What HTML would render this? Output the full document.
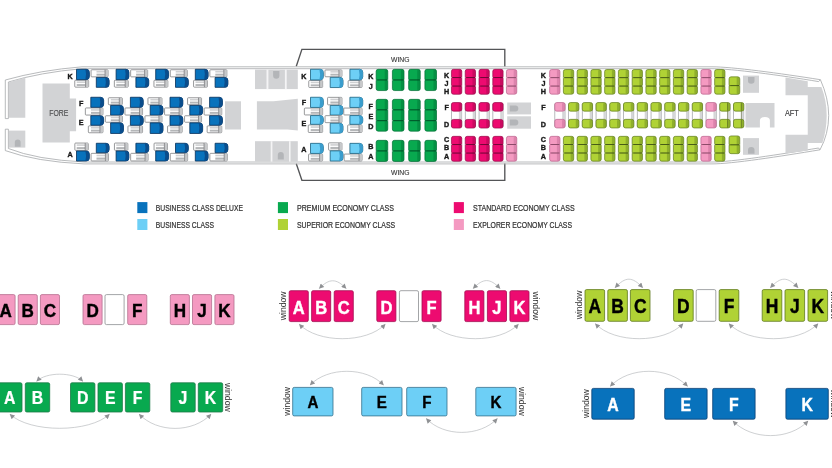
<!DOCTYPE html>
<html lang="en"><head><meta charset="utf-8"><title>Seat map</title>
<style>html,body{margin:0;padding:0;background:#fff;}body{width:832px;height:468px;overflow:hidden;}svg{display:block;filter:blur(0.45px);}text{font-family:"Liberation Sans",sans-serif;}</style>
</head><body>
<svg width="832" height="468" viewBox="0 0 832 468">
<rect width="832" height="468" fill="#ffffff"/>
<g id="plane">
<path d="M296.3 66.3 L301.9 49.3 H504.8 V66.5" fill="none" stroke="#545557" stroke-width="1.35"/>
<path d="M296.3 163.8 L301.9 180.3 H504.8 V163.6" fill="none" stroke="#545557" stroke-width="1.35"/>
<text transform="translate(400.30 61.70) scale(0.87 1)" font-size="7.8" fill="#333333" font-weight="normal" text-anchor="middle" stroke="#333333" stroke-width="0.12">WING</text>
<text transform="translate(400.30 174.90) scale(0.87 1)" font-size="7.8" fill="#333333" font-weight="normal" text-anchor="middle" stroke="#333333" stroke-width="0.12">WING</text>
<path d="M5.3 118.6 V80 Q40 70.2 82 66.8 H712 C732 66.8 780 73.3 820.4 79.7" fill="none" stroke="#a6a8ab" stroke-width="0.8"/>
<path d="M5.3 129.2 V150.6 Q36 161.7 84 163.9 H712 C732 163.9 780 156.4 820 149.8" fill="none" stroke="#a6a8ab" stroke-width="0.8"/>
<path d="M820.4 79.7 Q828.6 98 828.7 115.5 Q828.6 134 820 149.8" fill="none" stroke="#a6a8ab" stroke-width="0.8"/>
<path d="M8.4 118.6 V82 Q40 72.4 82 68.7 H712 C732 68.7 780 75.2 818.6 81.6 M818.6 148 C780 154.3 732 162.0 712 162.0 H84 Q36 159.6 8.4 148.5 V129.2" fill="none" stroke="#a6a8ab" stroke-width="0.8"/>
<path d="M5.3 118.6 H8.4 M5.3 129.2 H8.4 M818.6 81.6 L820.4 79.7 M818.6 148 L820 149.8" stroke="#a6a8ab" stroke-width="0.8" fill="none"/>
<path d="M8.9 82.2 L25.3 77.6 V117.8 H8.9 Z" fill="#d2d3d5"/>
<rect x="8.90" y="130.60" width="16.40" height="17.00" fill="#d2d3d5"/>
<path d="M14.8 146.8 V142 Q14.8 139.4 17.7 139.4 Q20.6 139.4 20.6 142 V146.8 Z" fill="#b3b5b8"/>
<path d="M42.5 83.6 H69.8 V98.6 H76.1 V131.2 H69.8 V142.5 H42.5 Z" fill="#d2d3d5"/>
<text transform="translate(58.80 115.80) scale(0.74 1)" font-size="9.3" fill="#4d4d4f" font-weight="normal" text-anchor="middle" stroke="#4d4d4f" stroke-width="0.15">FORE</text>
<text transform="translate(70.00 78.60) scale(0.9 1)" font-size="8.0" fill="#1a1a1a" font-weight="bold" text-anchor="middle" stroke="#1a1a1a" stroke-width="0.4">K</text>
<text transform="translate(81.20 105.90) scale(0.9 1)" font-size="8.0" fill="#1a1a1a" font-weight="bold" text-anchor="middle" stroke="#1a1a1a" stroke-width="0.4">F</text>
<text transform="translate(81.20 125.00) scale(0.9 1)" font-size="8.0" fill="#1a1a1a" font-weight="bold" text-anchor="middle" stroke="#1a1a1a" stroke-width="0.4">E</text>
<text transform="translate(70.00 156.90) scale(0.9 1)" font-size="8.0" fill="#1a1a1a" font-weight="bold" text-anchor="middle" stroke="#1a1a1a" stroke-width="0.4">A</text>
<rect x="74.75" y="80.25" width="13.90" height="6.90" fill="#ffffff" rx="0.8" stroke="#6d6e71" stroke-width="0.7"/>
<rect x="76.70" y="81.42" width="8.70" height="1.52" fill="#cfd0d2"/>
<rect x="76.70" y="84.08" width="8.70" height="1.90" fill="#b4b6b8"/>
<rect x="85.60" y="80.50" width="2.80" height="6.40" fill="#c6c8ca"/>
<line x1="85.60" y1="80.30" x2="85.60" y2="87.10" stroke="#5a5b5e" stroke-width="0.6"/>
<path d="M76.50 69.25 H86.20 Q89.35 69.25 89.35 72.40 V76.50 Q89.35 79.65 86.20 79.65 H76.50 Z" fill="#0872bc" stroke="#062f58" stroke-width="0.8"/>
<path d="M85.40 69.30 H86.20 Q89.30 69.30 89.30 72.40 V76.50 Q89.30 79.60 86.20 79.60 H85.40 Q86.80 74.45 85.40 69.30 Z" fill="#0a4d8c"/>
<rect x="74.85" y="143.05" width="13.40" height="7.30" fill="#ffffff" rx="0.8" stroke="#6d6e71" stroke-width="0.7"/>
<rect x="76.70" y="144.30" width="8.30" height="1.60" fill="#cfd0d2"/>
<rect x="76.70" y="147.10" width="8.30" height="2.00" fill="#b4b6b8"/>
<rect x="85.20" y="143.30" width="2.80" height="6.80" fill="#c6c8ca"/>
<line x1="85.20" y1="143.10" x2="85.20" y2="150.30" stroke="#5a5b5e" stroke-width="0.6"/>
<path d="M76.50 150.95 H86.20 Q89.35 150.95 89.35 154.10 V157.90 Q89.35 161.05 86.20 161.05 H76.50 Z" fill="#0872bc" stroke="#062f58" stroke-width="0.8"/>
<path d="M85.40 151.00 H86.20 Q89.30 151.00 89.30 154.10 V157.90 Q89.30 161.00 86.20 161.00 H85.40 Q86.80 156.00 85.40 151.00 Z" fill="#0a4d8c"/>
<rect x="91.05" y="69.75" width="17.00" height="7.10" fill="#ffffff" rx="0.8" stroke="#6d6e71" stroke-width="0.7"/>
<rect x="96.50" y="70.96" width="8.30" height="1.56" fill="#cfd0d2"/>
<rect x="96.50" y="73.69" width="8.30" height="1.95" fill="#b4b6b8"/>
<rect x="105.00" y="70.00" width="2.80" height="6.60" fill="#c6c8ca"/>
<line x1="105.00" y1="69.80" x2="105.00" y2="76.80" stroke="#5a5b5e" stroke-width="0.6"/>
<path d="M96.30 77.45 H106.00 Q109.15 77.45 109.15 80.60 V84.20 Q109.15 87.35 106.00 87.35 H96.30 Z" fill="#0872bc" stroke="#062f58" stroke-width="0.8"/>
<path d="M105.20 77.50 H106.00 Q109.10 77.50 109.10 80.60 V84.20 Q109.10 87.30 106.00 87.30 H105.20 Q106.60 82.40 105.20 77.50 Z" fill="#0a4d8c"/>
<rect x="91.05" y="153.35" width="17.40" height="7.60" fill="#ffffff" rx="0.8" stroke="#6d6e71" stroke-width="0.7"/>
<rect x="96.50" y="154.66" width="8.70" height="1.66" fill="#cfd0d2"/>
<rect x="96.50" y="157.56" width="8.70" height="2.08" fill="#b4b6b8"/>
<rect x="105.40" y="153.60" width="2.80" height="7.10" fill="#c6c8ca"/>
<line x1="105.40" y1="153.40" x2="105.40" y2="160.90" stroke="#5a5b5e" stroke-width="0.6"/>
<path d="M96.30 143.25 H106.00 Q109.15 143.25 109.15 146.40 V149.60 Q109.15 152.75 106.00 152.75 H96.30 Z" fill="#0872bc" stroke="#062f58" stroke-width="0.8"/>
<path d="M105.20 143.30 H106.00 Q109.10 143.30 109.10 146.40 V149.60 Q109.10 152.70 106.00 152.70 H105.20 Q106.60 148.00 105.20 143.30 Z" fill="#0a4d8c"/>
<rect x="114.35" y="80.25" width="13.90" height="6.90" fill="#ffffff" rx="0.8" stroke="#6d6e71" stroke-width="0.7"/>
<rect x="116.30" y="81.42" width="8.70" height="1.52" fill="#cfd0d2"/>
<rect x="116.30" y="84.08" width="8.70" height="1.90" fill="#b4b6b8"/>
<rect x="125.20" y="80.50" width="2.80" height="6.40" fill="#c6c8ca"/>
<line x1="125.20" y1="80.30" x2="125.20" y2="87.10" stroke="#5a5b5e" stroke-width="0.6"/>
<path d="M116.10 69.25 H125.80 Q128.95 69.25 128.95 72.40 V76.50 Q128.95 79.65 125.80 79.65 H116.10 Z" fill="#0872bc" stroke="#062f58" stroke-width="0.8"/>
<path d="M125.00 69.30 H125.80 Q128.90 69.30 128.90 72.40 V76.50 Q128.90 79.60 125.80 79.60 H125.00 Q126.40 74.45 125.00 69.30 Z" fill="#0a4d8c"/>
<rect x="114.45" y="143.05" width="13.40" height="7.30" fill="#ffffff" rx="0.8" stroke="#6d6e71" stroke-width="0.7"/>
<rect x="116.30" y="144.30" width="8.30" height="1.60" fill="#cfd0d2"/>
<rect x="116.30" y="147.10" width="8.30" height="2.00" fill="#b4b6b8"/>
<rect x="124.80" y="143.30" width="2.80" height="6.80" fill="#c6c8ca"/>
<line x1="124.80" y1="143.10" x2="124.80" y2="150.30" stroke="#5a5b5e" stroke-width="0.6"/>
<path d="M116.10 150.95 H125.80 Q128.95 150.95 128.95 154.10 V157.90 Q128.95 161.05 125.80 161.05 H116.10 Z" fill="#0872bc" stroke="#062f58" stroke-width="0.8"/>
<path d="M125.00 151.00 H125.80 Q128.90 151.00 128.90 154.10 V157.90 Q128.90 161.00 125.80 161.00 H125.00 Q126.40 156.00 125.00 151.00 Z" fill="#0a4d8c"/>
<rect x="130.65" y="69.75" width="17.00" height="7.10" fill="#ffffff" rx="0.8" stroke="#6d6e71" stroke-width="0.7"/>
<rect x="136.10" y="70.96" width="8.30" height="1.56" fill="#cfd0d2"/>
<rect x="136.10" y="73.69" width="8.30" height="1.95" fill="#b4b6b8"/>
<rect x="144.60" y="70.00" width="2.80" height="6.60" fill="#c6c8ca"/>
<line x1="144.60" y1="69.80" x2="144.60" y2="76.80" stroke="#5a5b5e" stroke-width="0.6"/>
<path d="M135.90 77.45 H145.60 Q148.75 77.45 148.75 80.60 V84.20 Q148.75 87.35 145.60 87.35 H135.90 Z" fill="#0872bc" stroke="#062f58" stroke-width="0.8"/>
<path d="M144.80 77.50 H145.60 Q148.70 77.50 148.70 80.60 V84.20 Q148.70 87.30 145.60 87.30 H144.80 Q146.20 82.40 144.80 77.50 Z" fill="#0a4d8c"/>
<rect x="130.65" y="153.35" width="17.40" height="7.60" fill="#ffffff" rx="0.8" stroke="#6d6e71" stroke-width="0.7"/>
<rect x="136.10" y="154.66" width="8.70" height="1.66" fill="#cfd0d2"/>
<rect x="136.10" y="157.56" width="8.70" height="2.08" fill="#b4b6b8"/>
<rect x="145.00" y="153.60" width="2.80" height="7.10" fill="#c6c8ca"/>
<line x1="145.00" y1="153.40" x2="145.00" y2="160.90" stroke="#5a5b5e" stroke-width="0.6"/>
<path d="M135.90 143.25 H145.60 Q148.75 143.25 148.75 146.40 V149.60 Q148.75 152.75 145.60 152.75 H135.90 Z" fill="#0872bc" stroke="#062f58" stroke-width="0.8"/>
<path d="M144.80 143.30 H145.60 Q148.70 143.30 148.70 146.40 V149.60 Q148.70 152.70 145.60 152.70 H144.80 Q146.20 148.00 144.80 143.30 Z" fill="#0a4d8c"/>
<rect x="153.95" y="80.25" width="13.90" height="6.90" fill="#ffffff" rx="0.8" stroke="#6d6e71" stroke-width="0.7"/>
<rect x="155.90" y="81.42" width="8.70" height="1.52" fill="#cfd0d2"/>
<rect x="155.90" y="84.08" width="8.70" height="1.90" fill="#b4b6b8"/>
<rect x="164.80" y="80.50" width="2.80" height="6.40" fill="#c6c8ca"/>
<line x1="164.80" y1="80.30" x2="164.80" y2="87.10" stroke="#5a5b5e" stroke-width="0.6"/>
<path d="M155.70 69.25 H165.40 Q168.55 69.25 168.55 72.40 V76.50 Q168.55 79.65 165.40 79.65 H155.70 Z" fill="#0872bc" stroke="#062f58" stroke-width="0.8"/>
<path d="M164.60 69.30 H165.40 Q168.50 69.30 168.50 72.40 V76.50 Q168.50 79.60 165.40 79.60 H164.60 Q166.00 74.45 164.60 69.30 Z" fill="#0a4d8c"/>
<rect x="154.05" y="143.05" width="13.40" height="7.30" fill="#ffffff" rx="0.8" stroke="#6d6e71" stroke-width="0.7"/>
<rect x="155.90" y="144.30" width="8.30" height="1.60" fill="#cfd0d2"/>
<rect x="155.90" y="147.10" width="8.30" height="2.00" fill="#b4b6b8"/>
<rect x="164.40" y="143.30" width="2.80" height="6.80" fill="#c6c8ca"/>
<line x1="164.40" y1="143.10" x2="164.40" y2="150.30" stroke="#5a5b5e" stroke-width="0.6"/>
<path d="M155.70 150.95 H165.40 Q168.55 150.95 168.55 154.10 V157.90 Q168.55 161.05 165.40 161.05 H155.70 Z" fill="#0872bc" stroke="#062f58" stroke-width="0.8"/>
<path d="M164.60 151.00 H165.40 Q168.50 151.00 168.50 154.10 V157.90 Q168.50 161.00 165.40 161.00 H164.60 Q166.00 156.00 164.60 151.00 Z" fill="#0a4d8c"/>
<rect x="170.25" y="69.75" width="17.00" height="7.10" fill="#ffffff" rx="0.8" stroke="#6d6e71" stroke-width="0.7"/>
<rect x="175.70" y="70.96" width="8.30" height="1.56" fill="#cfd0d2"/>
<rect x="175.70" y="73.69" width="8.30" height="1.95" fill="#b4b6b8"/>
<rect x="184.20" y="70.00" width="2.80" height="6.60" fill="#c6c8ca"/>
<line x1="184.20" y1="69.80" x2="184.20" y2="76.80" stroke="#5a5b5e" stroke-width="0.6"/>
<path d="M175.50 77.45 H185.20 Q188.35 77.45 188.35 80.60 V84.20 Q188.35 87.35 185.20 87.35 H175.50 Z" fill="#0872bc" stroke="#062f58" stroke-width="0.8"/>
<path d="M184.40 77.50 H185.20 Q188.30 77.50 188.30 80.60 V84.20 Q188.30 87.30 185.20 87.30 H184.40 Q185.80 82.40 184.40 77.50 Z" fill="#0a4d8c"/>
<rect x="170.25" y="153.35" width="17.40" height="7.60" fill="#ffffff" rx="0.8" stroke="#6d6e71" stroke-width="0.7"/>
<rect x="175.70" y="154.66" width="8.70" height="1.66" fill="#cfd0d2"/>
<rect x="175.70" y="157.56" width="8.70" height="2.08" fill="#b4b6b8"/>
<rect x="184.60" y="153.60" width="2.80" height="7.10" fill="#c6c8ca"/>
<line x1="184.60" y1="153.40" x2="184.60" y2="160.90" stroke="#5a5b5e" stroke-width="0.6"/>
<path d="M175.50 143.25 H185.20 Q188.35 143.25 188.35 146.40 V149.60 Q188.35 152.75 185.20 152.75 H175.50 Z" fill="#0872bc" stroke="#062f58" stroke-width="0.8"/>
<path d="M184.40 143.30 H185.20 Q188.30 143.30 188.30 146.40 V149.60 Q188.30 152.70 185.20 152.70 H184.40 Q185.80 148.00 184.40 143.30 Z" fill="#0a4d8c"/>
<rect x="193.55" y="80.25" width="13.90" height="6.90" fill="#ffffff" rx="0.8" stroke="#6d6e71" stroke-width="0.7"/>
<rect x="195.50" y="81.42" width="8.70" height="1.52" fill="#cfd0d2"/>
<rect x="195.50" y="84.08" width="8.70" height="1.90" fill="#b4b6b8"/>
<rect x="204.40" y="80.50" width="2.80" height="6.40" fill="#c6c8ca"/>
<line x1="204.40" y1="80.30" x2="204.40" y2="87.10" stroke="#5a5b5e" stroke-width="0.6"/>
<path d="M195.30 69.25 H205.00 Q208.15 69.25 208.15 72.40 V76.50 Q208.15 79.65 205.00 79.65 H195.30 Z" fill="#0872bc" stroke="#062f58" stroke-width="0.8"/>
<path d="M204.20 69.30 H205.00 Q208.10 69.30 208.10 72.40 V76.50 Q208.10 79.60 205.00 79.60 H204.20 Q205.60 74.45 204.20 69.30 Z" fill="#0a4d8c"/>
<rect x="193.65" y="143.05" width="13.40" height="7.30" fill="#ffffff" rx="0.8" stroke="#6d6e71" stroke-width="0.7"/>
<rect x="195.50" y="144.30" width="8.30" height="1.60" fill="#cfd0d2"/>
<rect x="195.50" y="147.10" width="8.30" height="2.00" fill="#b4b6b8"/>
<rect x="204.00" y="143.30" width="2.80" height="6.80" fill="#c6c8ca"/>
<line x1="204.00" y1="143.10" x2="204.00" y2="150.30" stroke="#5a5b5e" stroke-width="0.6"/>
<path d="M195.30 150.95 H205.00 Q208.15 150.95 208.15 154.10 V157.90 Q208.15 161.05 205.00 161.05 H195.30 Z" fill="#0872bc" stroke="#062f58" stroke-width="0.8"/>
<path d="M204.20 151.00 H205.00 Q208.10 151.00 208.10 154.10 V157.90 Q208.10 161.00 205.00 161.00 H204.20 Q205.60 156.00 204.20 151.00 Z" fill="#0a4d8c"/>
<rect x="209.85" y="69.75" width="17.00" height="7.10" fill="#ffffff" rx="0.8" stroke="#6d6e71" stroke-width="0.7"/>
<rect x="215.30" y="70.96" width="8.30" height="1.56" fill="#cfd0d2"/>
<rect x="215.30" y="73.69" width="8.30" height="1.95" fill="#b4b6b8"/>
<rect x="223.80" y="70.00" width="2.80" height="6.60" fill="#c6c8ca"/>
<line x1="223.80" y1="69.80" x2="223.80" y2="76.80" stroke="#5a5b5e" stroke-width="0.6"/>
<path d="M215.10 77.45 H224.80 Q227.95 77.45 227.95 80.60 V84.20 Q227.95 87.35 224.80 87.35 H215.10 Z" fill="#0872bc" stroke="#062f58" stroke-width="0.8"/>
<path d="M224.00 77.50 H224.80 Q227.90 77.50 227.90 80.60 V84.20 Q227.90 87.30 224.80 87.30 H224.00 Q225.40 82.40 224.00 77.50 Z" fill="#0a4d8c"/>
<rect x="209.85" y="153.35" width="17.40" height="7.60" fill="#ffffff" rx="0.8" stroke="#6d6e71" stroke-width="0.7"/>
<rect x="215.30" y="154.66" width="8.70" height="1.66" fill="#cfd0d2"/>
<rect x="215.30" y="157.56" width="8.70" height="2.08" fill="#b4b6b8"/>
<rect x="224.20" y="153.60" width="2.80" height="7.10" fill="#c6c8ca"/>
<line x1="224.20" y1="153.40" x2="224.20" y2="160.90" stroke="#5a5b5e" stroke-width="0.6"/>
<path d="M215.10 143.25 H224.80 Q227.95 143.25 227.95 146.40 V149.60 Q227.95 152.75 224.80 152.75 H215.10 Z" fill="#0872bc" stroke="#062f58" stroke-width="0.8"/>
<path d="M224.00 143.30 H224.80 Q227.90 143.30 227.90 146.40 V149.60 Q227.90 152.70 224.80 152.70 H224.00 Q225.40 148.00 224.00 143.30 Z" fill="#0a4d8c"/>
<rect x="85.35" y="107.95" width="17.60" height="7.10" fill="#ffffff" rx="0.8" stroke="#6d6e71" stroke-width="0.7"/>
<rect x="91.00" y="109.16" width="8.70" height="1.56" fill="#cfd0d2"/>
<rect x="91.00" y="111.89" width="8.70" height="1.95" fill="#b4b6b8"/>
<rect x="99.90" y="108.20" width="2.80" height="6.60" fill="#c6c8ca"/>
<line x1="99.90" y1="108.00" x2="99.90" y2="115.00" stroke="#5a5b5e" stroke-width="0.6"/>
<path d="M90.80 97.25 H100.50 Q103.65 97.25 103.65 100.40 V104.20 Q103.65 107.35 100.50 107.35 H90.80 Z" fill="#0872bc" stroke="#062f58" stroke-width="0.8"/>
<path d="M99.70 97.30 H100.50 Q103.60 97.30 103.60 100.40 V104.20 Q103.60 107.30 100.50 107.30 H99.70 Q101.10 102.30 99.70 97.30 Z" fill="#0a4d8c"/>
<rect x="88.35" y="125.85" width="14.60" height="6.90" fill="#ffffff" rx="0.8" stroke="#6d6e71" stroke-width="0.7"/>
<rect x="91.00" y="127.02" width="8.70" height="1.52" fill="#cfd0d2"/>
<rect x="91.00" y="129.68" width="8.70" height="1.90" fill="#b4b6b8"/>
<rect x="99.90" y="126.10" width="2.80" height="6.40" fill="#c6c8ca"/>
<line x1="99.90" y1="125.90" x2="99.90" y2="132.70" stroke="#5a5b5e" stroke-width="0.6"/>
<path d="M90.80 115.65 H100.50 Q103.65 115.65 103.65 118.80 V122.10 Q103.65 125.25 100.50 125.25 H90.80 Z" fill="#0872bc" stroke="#062f58" stroke-width="0.8"/>
<path d="M99.70 115.70 H100.50 Q103.60 115.70 103.60 118.80 V122.10 Q103.60 125.20 100.50 125.20 H99.70 Q101.10 120.45 99.70 115.70 Z" fill="#0a4d8c"/>
<rect x="108.35" y="97.75" width="14.00" height="7.00" fill="#ffffff" rx="0.8" stroke="#6d6e71" stroke-width="0.7"/>
<rect x="110.80" y="98.94" width="8.30" height="1.54" fill="#cfd0d2"/>
<rect x="110.80" y="101.64" width="8.30" height="1.92" fill="#b4b6b8"/>
<rect x="119.30" y="98.00" width="2.80" height="6.50" fill="#c6c8ca"/>
<line x1="119.30" y1="97.80" x2="119.30" y2="104.70" stroke="#5a5b5e" stroke-width="0.6"/>
<path d="M110.60 105.35 H120.30 Q123.45 105.35 123.45 108.50 V112.00 Q123.45 115.15 120.30 115.15 H110.60 Z" fill="#0872bc" stroke="#062f58" stroke-width="0.8"/>
<path d="M119.50 105.40 H120.30 Q123.40 105.40 123.40 108.50 V112.00 Q123.40 115.10 120.30 115.10 H119.50 Q120.90 110.25 119.50 105.40 Z" fill="#0a4d8c"/>
<rect x="105.35" y="115.75" width="17.00" height="6.50" fill="#ffffff" rx="0.8" stroke="#6d6e71" stroke-width="0.7"/>
<rect x="110.80" y="116.84" width="8.30" height="1.44" fill="#cfd0d2"/>
<rect x="110.80" y="119.36" width="8.30" height="1.80" fill="#b4b6b8"/>
<rect x="119.30" y="116.00" width="2.80" height="6.00" fill="#c6c8ca"/>
<line x1="119.30" y1="115.80" x2="119.30" y2="122.20" stroke="#5a5b5e" stroke-width="0.6"/>
<path d="M110.60 122.85 H120.30 Q123.45 122.85 123.45 126.00 V130.30 Q123.45 133.45 120.30 133.45 H110.60 Z" fill="#0872bc" stroke="#062f58" stroke-width="0.8"/>
<path d="M119.50 122.90 H120.30 Q123.40 122.90 123.40 126.00 V130.30 Q123.40 133.40 120.30 133.40 H119.50 Q120.90 128.15 119.50 122.90 Z" fill="#0a4d8c"/>
<rect x="124.95" y="107.95" width="17.60" height="7.10" fill="#ffffff" rx="0.8" stroke="#6d6e71" stroke-width="0.7"/>
<rect x="130.60" y="109.16" width="8.70" height="1.56" fill="#cfd0d2"/>
<rect x="130.60" y="111.89" width="8.70" height="1.95" fill="#b4b6b8"/>
<rect x="139.50" y="108.20" width="2.80" height="6.60" fill="#c6c8ca"/>
<line x1="139.50" y1="108.00" x2="139.50" y2="115.00" stroke="#5a5b5e" stroke-width="0.6"/>
<path d="M130.40 97.25 H140.10 Q143.25 97.25 143.25 100.40 V104.20 Q143.25 107.35 140.10 107.35 H130.40 Z" fill="#0872bc" stroke="#062f58" stroke-width="0.8"/>
<path d="M139.30 97.30 H140.10 Q143.20 97.30 143.20 100.40 V104.20 Q143.20 107.30 140.10 107.30 H139.30 Q140.70 102.30 139.30 97.30 Z" fill="#0a4d8c"/>
<rect x="127.95" y="125.85" width="14.60" height="6.90" fill="#ffffff" rx="0.8" stroke="#6d6e71" stroke-width="0.7"/>
<rect x="130.60" y="127.02" width="8.70" height="1.52" fill="#cfd0d2"/>
<rect x="130.60" y="129.68" width="8.70" height="1.90" fill="#b4b6b8"/>
<rect x="139.50" y="126.10" width="2.80" height="6.40" fill="#c6c8ca"/>
<line x1="139.50" y1="125.90" x2="139.50" y2="132.70" stroke="#5a5b5e" stroke-width="0.6"/>
<path d="M130.40 115.65 H140.10 Q143.25 115.65 143.25 118.80 V122.10 Q143.25 125.25 140.10 125.25 H130.40 Z" fill="#0872bc" stroke="#062f58" stroke-width="0.8"/>
<path d="M139.30 115.70 H140.10 Q143.20 115.70 143.20 118.80 V122.10 Q143.20 125.20 140.10 125.20 H139.30 Q140.70 120.45 139.30 115.70 Z" fill="#0a4d8c"/>
<rect x="147.95" y="97.75" width="14.00" height="7.00" fill="#ffffff" rx="0.8" stroke="#6d6e71" stroke-width="0.7"/>
<rect x="150.40" y="98.94" width="8.30" height="1.54" fill="#cfd0d2"/>
<rect x="150.40" y="101.64" width="8.30" height="1.92" fill="#b4b6b8"/>
<rect x="158.90" y="98.00" width="2.80" height="6.50" fill="#c6c8ca"/>
<line x1="158.90" y1="97.80" x2="158.90" y2="104.70" stroke="#5a5b5e" stroke-width="0.6"/>
<path d="M150.20 105.35 H159.90 Q163.05 105.35 163.05 108.50 V112.00 Q163.05 115.15 159.90 115.15 H150.20 Z" fill="#0872bc" stroke="#062f58" stroke-width="0.8"/>
<path d="M159.10 105.40 H159.90 Q163.00 105.40 163.00 108.50 V112.00 Q163.00 115.10 159.90 115.10 H159.10 Q160.50 110.25 159.10 105.40 Z" fill="#0a4d8c"/>
<rect x="144.95" y="115.75" width="17.00" height="6.50" fill="#ffffff" rx="0.8" stroke="#6d6e71" stroke-width="0.7"/>
<rect x="150.40" y="116.84" width="8.30" height="1.44" fill="#cfd0d2"/>
<rect x="150.40" y="119.36" width="8.30" height="1.80" fill="#b4b6b8"/>
<rect x="158.90" y="116.00" width="2.80" height="6.00" fill="#c6c8ca"/>
<line x1="158.90" y1="115.80" x2="158.90" y2="122.20" stroke="#5a5b5e" stroke-width="0.6"/>
<path d="M150.20 122.85 H159.90 Q163.05 122.85 163.05 126.00 V130.30 Q163.05 133.45 159.90 133.45 H150.20 Z" fill="#0872bc" stroke="#062f58" stroke-width="0.8"/>
<path d="M159.10 122.90 H159.90 Q163.00 122.90 163.00 126.00 V130.30 Q163.00 133.40 159.90 133.40 H159.10 Q160.50 128.15 159.10 122.90 Z" fill="#0a4d8c"/>
<rect x="164.55" y="107.95" width="17.60" height="7.10" fill="#ffffff" rx="0.8" stroke="#6d6e71" stroke-width="0.7"/>
<rect x="170.20" y="109.16" width="8.70" height="1.56" fill="#cfd0d2"/>
<rect x="170.20" y="111.89" width="8.70" height="1.95" fill="#b4b6b8"/>
<rect x="179.10" y="108.20" width="2.80" height="6.60" fill="#c6c8ca"/>
<line x1="179.10" y1="108.00" x2="179.10" y2="115.00" stroke="#5a5b5e" stroke-width="0.6"/>
<path d="M170.00 97.25 H179.70 Q182.85 97.25 182.85 100.40 V104.20 Q182.85 107.35 179.70 107.35 H170.00 Z" fill="#0872bc" stroke="#062f58" stroke-width="0.8"/>
<path d="M178.90 97.30 H179.70 Q182.80 97.30 182.80 100.40 V104.20 Q182.80 107.30 179.70 107.30 H178.90 Q180.30 102.30 178.90 97.30 Z" fill="#0a4d8c"/>
<rect x="167.55" y="125.85" width="14.60" height="6.90" fill="#ffffff" rx="0.8" stroke="#6d6e71" stroke-width="0.7"/>
<rect x="170.20" y="127.02" width="8.70" height="1.52" fill="#cfd0d2"/>
<rect x="170.20" y="129.68" width="8.70" height="1.90" fill="#b4b6b8"/>
<rect x="179.10" y="126.10" width="2.80" height="6.40" fill="#c6c8ca"/>
<line x1="179.10" y1="125.90" x2="179.10" y2="132.70" stroke="#5a5b5e" stroke-width="0.6"/>
<path d="M170.00 115.65 H179.70 Q182.85 115.65 182.85 118.80 V122.10 Q182.85 125.25 179.70 125.25 H170.00 Z" fill="#0872bc" stroke="#062f58" stroke-width="0.8"/>
<path d="M178.90 115.70 H179.70 Q182.80 115.70 182.80 118.80 V122.10 Q182.80 125.20 179.70 125.20 H178.90 Q180.30 120.45 178.90 115.70 Z" fill="#0a4d8c"/>
<rect x="187.55" y="97.75" width="14.00" height="7.00" fill="#ffffff" rx="0.8" stroke="#6d6e71" stroke-width="0.7"/>
<rect x="190.00" y="98.94" width="8.30" height="1.54" fill="#cfd0d2"/>
<rect x="190.00" y="101.64" width="8.30" height="1.92" fill="#b4b6b8"/>
<rect x="198.50" y="98.00" width="2.80" height="6.50" fill="#c6c8ca"/>
<line x1="198.50" y1="97.80" x2="198.50" y2="104.70" stroke="#5a5b5e" stroke-width="0.6"/>
<path d="M189.80 105.35 H199.50 Q202.65 105.35 202.65 108.50 V112.00 Q202.65 115.15 199.50 115.15 H189.80 Z" fill="#0872bc" stroke="#062f58" stroke-width="0.8"/>
<path d="M198.70 105.40 H199.50 Q202.60 105.40 202.60 108.50 V112.00 Q202.60 115.10 199.50 115.10 H198.70 Q200.10 110.25 198.70 105.40 Z" fill="#0a4d8c"/>
<rect x="184.55" y="115.75" width="17.00" height="6.50" fill="#ffffff" rx="0.8" stroke="#6d6e71" stroke-width="0.7"/>
<rect x="190.00" y="116.84" width="8.30" height="1.44" fill="#cfd0d2"/>
<rect x="190.00" y="119.36" width="8.30" height="1.80" fill="#b4b6b8"/>
<rect x="198.50" y="116.00" width="2.80" height="6.00" fill="#c6c8ca"/>
<line x1="198.50" y1="115.80" x2="198.50" y2="122.20" stroke="#5a5b5e" stroke-width="0.6"/>
<path d="M189.80 122.85 H199.50 Q202.65 122.85 202.65 126.00 V130.30 Q202.65 133.45 199.50 133.45 H189.80 Z" fill="#0872bc" stroke="#062f58" stroke-width="0.8"/>
<path d="M198.70 122.90 H199.50 Q202.60 122.90 202.60 126.00 V130.30 Q202.60 133.40 199.50 133.40 H198.70 Q200.10 128.15 198.70 122.90 Z" fill="#0a4d8c"/>
<rect x="204.15" y="107.95" width="17.60" height="7.10" fill="#ffffff" rx="0.8" stroke="#6d6e71" stroke-width="0.7"/>
<rect x="209.80" y="109.16" width="8.70" height="1.56" fill="#cfd0d2"/>
<rect x="209.80" y="111.89" width="8.70" height="1.95" fill="#b4b6b8"/>
<rect x="218.70" y="108.20" width="2.80" height="6.60" fill="#c6c8ca"/>
<line x1="218.70" y1="108.00" x2="218.70" y2="115.00" stroke="#5a5b5e" stroke-width="0.6"/>
<path d="M209.60 97.25 H219.30 Q222.45 97.25 222.45 100.40 V104.20 Q222.45 107.35 219.30 107.35 H209.60 Z" fill="#0872bc" stroke="#062f58" stroke-width="0.8"/>
<path d="M218.50 97.30 H219.30 Q222.40 97.30 222.40 100.40 V104.20 Q222.40 107.30 219.30 107.30 H218.50 Q219.90 102.30 218.50 97.30 Z" fill="#0a4d8c"/>
<rect x="207.15" y="125.85" width="14.60" height="6.90" fill="#ffffff" rx="0.8" stroke="#6d6e71" stroke-width="0.7"/>
<rect x="209.80" y="127.02" width="8.70" height="1.52" fill="#cfd0d2"/>
<rect x="209.80" y="129.68" width="8.70" height="1.90" fill="#b4b6b8"/>
<rect x="218.70" y="126.10" width="2.80" height="6.40" fill="#c6c8ca"/>
<line x1="218.70" y1="125.90" x2="218.70" y2="132.70" stroke="#5a5b5e" stroke-width="0.6"/>
<path d="M209.60 115.65 H219.30 Q222.45 115.65 222.45 118.80 V122.10 Q222.45 125.25 219.30 125.25 H209.60 Z" fill="#0872bc" stroke="#062f58" stroke-width="0.8"/>
<path d="M218.50 115.70 H219.30 Q222.40 115.70 222.40 118.80 V122.10 Q222.40 125.20 219.30 125.20 H218.50 Q219.90 120.45 218.50 115.70 Z" fill="#0a4d8c"/>
<rect x="225.00" y="101.30" width="16.00" height="28.20" fill="#d2d3d5"/>
<rect x="255.00" y="69.60" width="42.80" height="19.50" fill="#d2d3d5"/>
<rect x="266.50" y="69.60" width="1.90" height="19.50" fill="#f4f4f5"/>
<rect x="284.90" y="69.60" width="1.80" height="19.50" fill="#f4f4f5"/>
<path d="M273.1 71 H279.4 V75.6 Q279.4 78.8 276.25 78.8 Q273.1 78.8 273.1 75.6 Z" fill="#b3b5b8"/>
<path d="M256.9 101.3 H273.5 L297.8 98.8 V130.6 L287.5 129.6 H256.9 Z" fill="#d2d3d5"/>
<rect x="255.00" y="141.20" width="42.80" height="20.40" fill="#d2d3d5"/>
<rect x="270.70" y="141.20" width="1.70" height="20.40" fill="#f4f4f5"/>
<rect x="289.00" y="141.20" width="1.60" height="20.40" fill="#f4f4f5"/>
<path d="M277.8 159.4 V154.9 Q277.8 151.9 280.8 151.9 Q283.8 151.9 283.8 154.9 V159.4 Z" fill="#b3b5b8"/>
<text transform="translate(303.80 78.50) scale(0.9 1)" font-size="8.0" fill="#1a1a1a" font-weight="bold" text-anchor="middle" stroke="#1a1a1a" stroke-width="0.4">K</text>
<text transform="translate(304.00 105.40) scale(0.9 1)" font-size="8.0" fill="#1a1a1a" font-weight="bold" text-anchor="middle" stroke="#1a1a1a" stroke-width="0.4">F</text>
<text transform="translate(304.00 126.00) scale(0.9 1)" font-size="8.0" fill="#1a1a1a" font-weight="bold" text-anchor="middle" stroke="#1a1a1a" stroke-width="0.4">E</text>
<text transform="translate(303.80 151.60) scale(0.9 1)" font-size="8.0" fill="#1a1a1a" font-weight="bold" text-anchor="middle" stroke="#1a1a1a" stroke-width="0.4">A</text>
<rect x="308.75" y="80.55" width="13.90" height="6.90" fill="#ffffff" rx="0.8" stroke="#6d6e71" stroke-width="0.7"/>
<rect x="310.70" y="81.72" width="8.70" height="1.52" fill="#cfd0d2"/>
<rect x="310.70" y="84.38" width="8.70" height="1.90" fill="#b4b6b8"/>
<rect x="319.60" y="80.80" width="2.80" height="6.40" fill="#c6c8ca"/>
<line x1="319.60" y1="80.60" x2="319.60" y2="87.40" stroke="#5a5b5e" stroke-width="0.6"/>
<path d="M310.50 69.25 H320.20 Q323.35 69.25 323.35 72.40 V76.80 Q323.35 79.95 320.20 79.95 H310.50 Z" fill="#6dcff6" stroke="#1b5f7e" stroke-width="0.8"/>
<path d="M319.40 69.30 H320.20 Q323.30 69.30 323.30 72.40 V76.80 Q323.30 79.90 320.20 79.90 H319.40 Q320.80 74.60 319.40 69.30 Z" fill="#3a9dcd"/>
<rect x="308.55" y="154.05" width="14.10" height="6.90" fill="#ffffff" rx="0.8" stroke="#6d6e71" stroke-width="0.7"/>
<rect x="310.70" y="155.22" width="8.70" height="1.52" fill="#cfd0d2"/>
<rect x="310.70" y="157.88" width="8.70" height="1.90" fill="#b4b6b8"/>
<rect x="319.60" y="154.30" width="2.80" height="6.40" fill="#c6c8ca"/>
<line x1="319.60" y1="154.10" x2="319.60" y2="160.90" stroke="#5a5b5e" stroke-width="0.6"/>
<path d="M310.50 143.35 H320.20 Q323.35 143.35 323.35 146.50 V150.30 Q323.35 153.45 320.20 153.45 H310.50 Z" fill="#6dcff6" stroke="#1b5f7e" stroke-width="0.8"/>
<path d="M319.40 143.40 H320.20 Q323.30 143.40 323.30 146.50 V150.30 Q323.30 153.40 320.20 153.40 H319.40 Q320.80 148.40 319.40 143.40 Z" fill="#3a9dcd"/>
<rect x="304.35" y="108.05" width="18.30" height="6.90" fill="#ffffff" rx="0.8" stroke="#6d6e71" stroke-width="0.7"/>
<rect x="310.70" y="109.22" width="8.70" height="1.52" fill="#cfd0d2"/>
<rect x="310.70" y="111.88" width="8.70" height="1.90" fill="#b4b6b8"/>
<rect x="319.60" y="108.30" width="2.80" height="6.40" fill="#c6c8ca"/>
<line x1="319.60" y1="108.10" x2="319.60" y2="114.90" stroke="#5a5b5e" stroke-width="0.6"/>
<path d="M310.50 97.25 H320.20 Q323.35 97.25 323.35 100.40 V104.30 Q323.35 107.45 320.20 107.45 H310.50 Z" fill="#6dcff6" stroke="#1b5f7e" stroke-width="0.8"/>
<path d="M319.40 97.30 H320.20 Q323.30 97.30 323.30 100.40 V104.30 Q323.30 107.40 320.20 107.40 H319.40 Q320.80 102.35 319.40 97.30 Z" fill="#3a9dcd"/>
<rect x="308.25" y="124.95" width="14.40" height="7.50" fill="#ffffff" rx="0.8" stroke="#6d6e71" stroke-width="0.7"/>
<rect x="310.70" y="126.24" width="8.70" height="1.64" fill="#cfd0d2"/>
<rect x="310.70" y="129.11" width="8.70" height="2.05" fill="#b4b6b8"/>
<rect x="319.60" y="125.20" width="2.80" height="7.00" fill="#c6c8ca"/>
<line x1="319.60" y1="125.00" x2="319.60" y2="132.40" stroke="#5a5b5e" stroke-width="0.6"/>
<path d="M310.50 115.55 H320.20 Q323.35 115.55 323.35 118.70 V121.20 Q323.35 124.35 320.20 124.35 H310.50 Z" fill="#6dcff6" stroke="#1b5f7e" stroke-width="0.8"/>
<path d="M319.40 115.60 H320.20 Q323.30 115.60 323.30 118.70 V121.20 Q323.30 124.30 320.20 124.30 H319.40 Q320.80 119.95 319.40 115.60 Z" fill="#3a9dcd"/>
<rect x="324.95" y="69.95" width="17.00" height="6.80" fill="#ffffff" rx="0.8" stroke="#6d6e71" stroke-width="0.7"/>
<rect x="330.40" y="71.10" width="8.30" height="1.50" fill="#cfd0d2"/>
<rect x="330.40" y="73.72" width="8.30" height="1.88" fill="#b4b6b8"/>
<rect x="338.90" y="70.20" width="2.80" height="6.30" fill="#c6c8ca"/>
<line x1="338.90" y1="70.00" x2="338.90" y2="76.70" stroke="#5a5b5e" stroke-width="0.6"/>
<path d="M330.20 77.35 H339.90 Q343.05 77.35 343.05 80.50 V84.40 Q343.05 87.55 339.90 87.55 H330.20 Z" fill="#6dcff6" stroke="#1b5f7e" stroke-width="0.8"/>
<path d="M339.10 77.40 H339.90 Q343.00 77.40 343.00 80.50 V84.40 Q343.00 87.50 339.90 87.50 H339.10 Q340.50 82.45 339.10 77.40 Z" fill="#3a9dcd"/>
<rect x="328.55" y="142.85" width="13.40" height="7.40" fill="#ffffff" rx="0.8" stroke="#6d6e71" stroke-width="0.7"/>
<rect x="330.40" y="144.12" width="8.30" height="1.62" fill="#cfd0d2"/>
<rect x="330.40" y="146.95" width="8.30" height="2.02" fill="#b4b6b8"/>
<rect x="338.90" y="143.10" width="2.80" height="6.90" fill="#c6c8ca"/>
<line x1="338.90" y1="142.90" x2="338.90" y2="150.20" stroke="#5a5b5e" stroke-width="0.6"/>
<path d="M330.20 150.85 H339.90 Q343.05 150.85 343.05 154.00 V157.90 Q343.05 161.05 339.90 161.05 H330.20 Z" fill="#6dcff6" stroke="#1b5f7e" stroke-width="0.8"/>
<path d="M339.10 150.90 H339.90 Q343.00 150.90 343.00 154.00 V157.90 Q343.00 161.00 339.90 161.00 H339.10 Q340.50 155.95 339.10 150.90 Z" fill="#3a9dcd"/>
<rect x="327.55" y="97.35" width="14.40" height="7.50" fill="#ffffff" rx="0.8" stroke="#6d6e71" stroke-width="0.7"/>
<rect x="330.40" y="98.64" width="8.30" height="1.64" fill="#cfd0d2"/>
<rect x="330.40" y="101.51" width="8.30" height="2.05" fill="#b4b6b8"/>
<rect x="338.90" y="97.60" width="2.80" height="7.00" fill="#c6c8ca"/>
<line x1="338.90" y1="97.40" x2="338.90" y2="104.80" stroke="#5a5b5e" stroke-width="0.6"/>
<path d="M330.20 105.45 H339.90 Q343.05 105.45 343.05 108.60 V111.90 Q343.05 115.05 339.90 115.05 H330.20 Z" fill="#6dcff6" stroke="#1b5f7e" stroke-width="0.8"/>
<path d="M339.10 105.50 H339.90 Q343.00 105.50 343.00 108.60 V111.90 Q343.00 115.00 339.90 115.00 H339.10 Q340.50 110.25 339.10 105.50 Z" fill="#3a9dcd"/>
<rect x="325.05" y="115.65" width="16.90" height="7.00" fill="#ffffff" rx="0.8" stroke="#6d6e71" stroke-width="0.7"/>
<rect x="330.40" y="116.84" width="8.30" height="1.54" fill="#cfd0d2"/>
<rect x="330.40" y="119.53" width="8.30" height="1.93" fill="#b4b6b8"/>
<rect x="338.90" y="115.90" width="2.80" height="6.50" fill="#c6c8ca"/>
<line x1="338.90" y1="115.70" x2="338.90" y2="122.60" stroke="#5a5b5e" stroke-width="0.6"/>
<path d="M330.20 123.25 H339.90 Q343.05 123.25 343.05 126.40 V130.00 Q343.05 133.15 339.90 133.15 H330.20 Z" fill="#6dcff6" stroke="#1b5f7e" stroke-width="0.8"/>
<path d="M339.10 123.30 H339.90 Q343.00 123.30 343.00 126.40 V130.00 Q343.00 133.10 339.90 133.10 H339.10 Q340.50 128.20 339.10 123.30 Z" fill="#3a9dcd"/>
<rect x="348.15" y="80.55" width="13.90" height="6.90" fill="#ffffff" rx="0.8" stroke="#6d6e71" stroke-width="0.7"/>
<rect x="350.10" y="81.72" width="8.70" height="1.52" fill="#cfd0d2"/>
<rect x="350.10" y="84.38" width="8.70" height="1.90" fill="#b4b6b8"/>
<rect x="359.00" y="80.80" width="2.80" height="6.40" fill="#c6c8ca"/>
<line x1="359.00" y1="80.60" x2="359.00" y2="87.40" stroke="#5a5b5e" stroke-width="0.6"/>
<path d="M349.90 69.25 H359.60 Q362.75 69.25 362.75 72.40 V76.80 Q362.75 79.95 359.60 79.95 H349.90 Z" fill="#6dcff6" stroke="#1b5f7e" stroke-width="0.8"/>
<path d="M358.80 69.30 H359.60 Q362.70 69.30 362.70 72.40 V76.80 Q362.70 79.90 359.60 79.90 H358.80 Q360.20 74.60 358.80 69.30 Z" fill="#3a9dcd"/>
<rect x="344.15" y="154.05" width="17.90" height="6.90" fill="#ffffff" rx="0.8" stroke="#6d6e71" stroke-width="0.7"/>
<rect x="350.10" y="155.22" width="8.70" height="1.52" fill="#cfd0d2"/>
<rect x="350.10" y="157.88" width="8.70" height="1.90" fill="#b4b6b8"/>
<rect x="359.00" y="154.30" width="2.80" height="6.40" fill="#c6c8ca"/>
<line x1="359.00" y1="154.10" x2="359.00" y2="160.90" stroke="#5a5b5e" stroke-width="0.6"/>
<path d="M349.90 143.35 H359.60 Q362.75 143.35 362.75 146.50 V150.30 Q362.75 153.45 359.60 153.45 H349.90 Z" fill="#6dcff6" stroke="#1b5f7e" stroke-width="0.8"/>
<path d="M358.80 143.40 H359.60 Q362.70 143.40 362.70 146.50 V150.30 Q362.70 153.40 359.60 153.40 H358.80 Q360.20 148.40 358.80 143.40 Z" fill="#3a9dcd"/>
<rect x="343.75" y="108.05" width="18.30" height="6.90" fill="#ffffff" rx="0.8" stroke="#6d6e71" stroke-width="0.7"/>
<rect x="350.10" y="109.22" width="8.70" height="1.52" fill="#cfd0d2"/>
<rect x="350.10" y="111.88" width="8.70" height="1.90" fill="#b4b6b8"/>
<rect x="359.00" y="108.30" width="2.80" height="6.40" fill="#c6c8ca"/>
<line x1="359.00" y1="108.10" x2="359.00" y2="114.90" stroke="#5a5b5e" stroke-width="0.6"/>
<path d="M349.90 97.25 H359.60 Q362.75 97.25 362.75 100.40 V104.30 Q362.75 107.45 359.60 107.45 H349.90 Z" fill="#6dcff6" stroke="#1b5f7e" stroke-width="0.8"/>
<path d="M358.80 97.30 H359.60 Q362.70 97.30 362.70 100.40 V104.30 Q362.70 107.40 359.60 107.40 H358.80 Q360.20 102.35 358.80 97.30 Z" fill="#3a9dcd"/>
<rect x="347.65" y="124.95" width="14.40" height="7.50" fill="#ffffff" rx="0.8" stroke="#6d6e71" stroke-width="0.7"/>
<rect x="350.10" y="126.24" width="8.70" height="1.64" fill="#cfd0d2"/>
<rect x="350.10" y="129.11" width="8.70" height="2.05" fill="#b4b6b8"/>
<rect x="359.00" y="125.20" width="2.80" height="7.00" fill="#c6c8ca"/>
<line x1="359.00" y1="125.00" x2="359.00" y2="132.40" stroke="#5a5b5e" stroke-width="0.6"/>
<path d="M349.90 115.55 H359.60 Q362.75 115.55 362.75 118.70 V121.20 Q362.75 124.35 359.60 124.35 H349.90 Z" fill="#6dcff6" stroke="#1b5f7e" stroke-width="0.8"/>
<path d="M358.80 115.60 H359.60 Q362.70 115.60 362.70 118.70 V121.20 Q362.70 124.30 359.60 124.30 H358.80 Q360.20 119.95 358.80 115.60 Z" fill="#3a9dcd"/>
<text transform="translate(370.80 78.50) scale(0.9 1)" font-size="8.0" fill="#1a1a1a" font-weight="bold" text-anchor="middle" stroke="#1a1a1a" stroke-width="0.4">K</text>
<text transform="translate(370.80 88.50) scale(0.9 1)" font-size="8.0" fill="#1a1a1a" font-weight="bold" text-anchor="middle" stroke="#1a1a1a" stroke-width="0.4">J</text>
<text transform="translate(370.80 108.50) scale(0.9 1)" font-size="8.0" fill="#1a1a1a" font-weight="bold" text-anchor="middle" stroke="#1a1a1a" stroke-width="0.4">F</text>
<text transform="translate(370.80 118.80) scale(0.9 1)" font-size="8.0" fill="#1a1a1a" font-weight="bold" text-anchor="middle" stroke="#1a1a1a" stroke-width="0.4">E</text>
<text transform="translate(370.80 129.10) scale(0.9 1)" font-size="8.0" fill="#1a1a1a" font-weight="bold" text-anchor="middle" stroke="#1a1a1a" stroke-width="0.4">D</text>
<text transform="translate(370.80 149.40) scale(0.9 1)" font-size="8.0" fill="#1a1a1a" font-weight="bold" text-anchor="middle" stroke="#1a1a1a" stroke-width="0.4">B</text>
<text transform="translate(370.80 159.40) scale(0.9 1)" font-size="8.0" fill="#1a1a1a" font-weight="bold" text-anchor="middle" stroke="#1a1a1a" stroke-width="0.4">A</text>
<rect x="376.15" y="69.35" width="11.60" height="21.20" fill="#08a94f" rx="2.0" stroke="#006b33" stroke-width="0.7"/>
<rect x="384.70" y="69.70" width="2.70" height="20.50" fill="#006b33" rx="1.0" opacity="0.4"/>
<line x1="376.10" y1="79.95" x2="387.80" y2="79.95" stroke="#006b33" stroke-width="1.0"/>
<line x1="377.60" y1="79.95" x2="387.10" y2="79.95" stroke="#000000" stroke-opacity="0.3" stroke-width="0.8"/>
<path d="M375.60 78.95 L376.40 79.95 L375.60 80.95 Z M388.30 78.95 L387.50 79.95 L388.30 80.95 Z" fill="#ffffff"/>
<rect x="376.15" y="99.35" width="11.60" height="31.80" fill="#08a94f" rx="2.0" stroke="#006b33" stroke-width="0.7"/>
<rect x="384.70" y="99.70" width="2.70" height="31.10" fill="#006b33" rx="1.0" opacity="0.4"/>
<line x1="376.10" y1="109.83" x2="387.80" y2="109.83" stroke="#006b33" stroke-width="1.0"/>
<line x1="377.60" y1="109.83" x2="387.10" y2="109.83" stroke="#000000" stroke-opacity="0.3" stroke-width="0.8"/>
<path d="M375.60 108.83 L376.40 109.83 L375.60 110.83 Z M388.30 108.83 L387.50 109.83 L388.30 110.83 Z" fill="#ffffff"/>
<line x1="376.10" y1="120.67" x2="387.80" y2="120.67" stroke="#006b33" stroke-width="1.0"/>
<line x1="377.60" y1="120.67" x2="387.10" y2="120.67" stroke="#000000" stroke-opacity="0.3" stroke-width="0.8"/>
<path d="M375.60 119.67 L376.40 120.67 L375.60 121.67 Z M388.30 119.67 L387.50 120.67 L388.30 121.67 Z" fill="#ffffff"/>
<rect x="376.15" y="140.35" width="11.60" height="21.10" fill="#08a94f" rx="2.0" stroke="#006b33" stroke-width="0.7"/>
<rect x="384.70" y="140.70" width="2.70" height="20.40" fill="#006b33" rx="1.0" opacity="0.4"/>
<line x1="376.10" y1="150.90" x2="387.80" y2="150.90" stroke="#006b33" stroke-width="1.0"/>
<line x1="377.60" y1="150.90" x2="387.10" y2="150.90" stroke="#000000" stroke-opacity="0.3" stroke-width="0.8"/>
<path d="M375.60 149.90 L376.40 150.90 L375.60 151.90 Z M388.30 149.90 L387.50 150.90 L388.30 151.90 Z" fill="#ffffff"/>
<rect x="392.40" y="69.35" width="11.60" height="21.20" fill="#08a94f" rx="2.0" stroke="#006b33" stroke-width="0.7"/>
<rect x="400.95" y="69.70" width="2.70" height="20.50" fill="#006b33" rx="1.0" opacity="0.4"/>
<line x1="392.35" y1="79.95" x2="404.05" y2="79.95" stroke="#006b33" stroke-width="1.0"/>
<line x1="393.85" y1="79.95" x2="403.35" y2="79.95" stroke="#000000" stroke-opacity="0.3" stroke-width="0.8"/>
<path d="M391.85 78.95 L392.65 79.95 L391.85 80.95 Z M404.55 78.95 L403.75 79.95 L404.55 80.95 Z" fill="#ffffff"/>
<rect x="392.40" y="99.35" width="11.60" height="31.80" fill="#08a94f" rx="2.0" stroke="#006b33" stroke-width="0.7"/>
<rect x="400.95" y="99.70" width="2.70" height="31.10" fill="#006b33" rx="1.0" opacity="0.4"/>
<line x1="392.35" y1="109.83" x2="404.05" y2="109.83" stroke="#006b33" stroke-width="1.0"/>
<line x1="393.85" y1="109.83" x2="403.35" y2="109.83" stroke="#000000" stroke-opacity="0.3" stroke-width="0.8"/>
<path d="M391.85 108.83 L392.65 109.83 L391.85 110.83 Z M404.55 108.83 L403.75 109.83 L404.55 110.83 Z" fill="#ffffff"/>
<line x1="392.35" y1="120.67" x2="404.05" y2="120.67" stroke="#006b33" stroke-width="1.0"/>
<line x1="393.85" y1="120.67" x2="403.35" y2="120.67" stroke="#000000" stroke-opacity="0.3" stroke-width="0.8"/>
<path d="M391.85 119.67 L392.65 120.67 L391.85 121.67 Z M404.55 119.67 L403.75 120.67 L404.55 121.67 Z" fill="#ffffff"/>
<rect x="392.40" y="140.35" width="11.60" height="21.10" fill="#08a94f" rx="2.0" stroke="#006b33" stroke-width="0.7"/>
<rect x="400.95" y="140.70" width="2.70" height="20.40" fill="#006b33" rx="1.0" opacity="0.4"/>
<line x1="392.35" y1="150.90" x2="404.05" y2="150.90" stroke="#006b33" stroke-width="1.0"/>
<line x1="393.85" y1="150.90" x2="403.35" y2="150.90" stroke="#000000" stroke-opacity="0.3" stroke-width="0.8"/>
<path d="M391.85 149.90 L392.65 150.90 L391.85 151.90 Z M404.55 149.90 L403.75 150.90 L404.55 151.90 Z" fill="#ffffff"/>
<rect x="408.65" y="69.35" width="11.60" height="21.20" fill="#08a94f" rx="2.0" stroke="#006b33" stroke-width="0.7"/>
<rect x="417.20" y="69.70" width="2.70" height="20.50" fill="#006b33" rx="1.0" opacity="0.4"/>
<line x1="408.60" y1="79.95" x2="420.30" y2="79.95" stroke="#006b33" stroke-width="1.0"/>
<line x1="410.10" y1="79.95" x2="419.60" y2="79.95" stroke="#000000" stroke-opacity="0.3" stroke-width="0.8"/>
<path d="M408.10 78.95 L408.90 79.95 L408.10 80.95 Z M420.80 78.95 L420.00 79.95 L420.80 80.95 Z" fill="#ffffff"/>
<rect x="408.65" y="99.35" width="11.60" height="31.80" fill="#08a94f" rx="2.0" stroke="#006b33" stroke-width="0.7"/>
<rect x="417.20" y="99.70" width="2.70" height="31.10" fill="#006b33" rx="1.0" opacity="0.4"/>
<line x1="408.60" y1="109.83" x2="420.30" y2="109.83" stroke="#006b33" stroke-width="1.0"/>
<line x1="410.10" y1="109.83" x2="419.60" y2="109.83" stroke="#000000" stroke-opacity="0.3" stroke-width="0.8"/>
<path d="M408.10 108.83 L408.90 109.83 L408.10 110.83 Z M420.80 108.83 L420.00 109.83 L420.80 110.83 Z" fill="#ffffff"/>
<line x1="408.60" y1="120.67" x2="420.30" y2="120.67" stroke="#006b33" stroke-width="1.0"/>
<line x1="410.10" y1="120.67" x2="419.60" y2="120.67" stroke="#000000" stroke-opacity="0.3" stroke-width="0.8"/>
<path d="M408.10 119.67 L408.90 120.67 L408.10 121.67 Z M420.80 119.67 L420.00 120.67 L420.80 121.67 Z" fill="#ffffff"/>
<rect x="408.65" y="140.35" width="11.60" height="21.10" fill="#08a94f" rx="2.0" stroke="#006b33" stroke-width="0.7"/>
<rect x="417.20" y="140.70" width="2.70" height="20.40" fill="#006b33" rx="1.0" opacity="0.4"/>
<line x1="408.60" y1="150.90" x2="420.30" y2="150.90" stroke="#006b33" stroke-width="1.0"/>
<line x1="410.10" y1="150.90" x2="419.60" y2="150.90" stroke="#000000" stroke-opacity="0.3" stroke-width="0.8"/>
<path d="M408.10 149.90 L408.90 150.90 L408.10 151.90 Z M420.80 149.90 L420.00 150.90 L420.80 151.90 Z" fill="#ffffff"/>
<rect x="424.90" y="69.35" width="11.60" height="21.20" fill="#08a94f" rx="2.0" stroke="#006b33" stroke-width="0.7"/>
<rect x="433.45" y="69.70" width="2.70" height="20.50" fill="#006b33" rx="1.0" opacity="0.4"/>
<line x1="424.85" y1="79.95" x2="436.55" y2="79.95" stroke="#006b33" stroke-width="1.0"/>
<line x1="426.35" y1="79.95" x2="435.85" y2="79.95" stroke="#000000" stroke-opacity="0.3" stroke-width="0.8"/>
<path d="M424.35 78.95 L425.15 79.95 L424.35 80.95 Z M437.05 78.95 L436.25 79.95 L437.05 80.95 Z" fill="#ffffff"/>
<rect x="424.90" y="99.35" width="11.60" height="31.80" fill="#08a94f" rx="2.0" stroke="#006b33" stroke-width="0.7"/>
<rect x="433.45" y="99.70" width="2.70" height="31.10" fill="#006b33" rx="1.0" opacity="0.4"/>
<line x1="424.85" y1="109.83" x2="436.55" y2="109.83" stroke="#006b33" stroke-width="1.0"/>
<line x1="426.35" y1="109.83" x2="435.85" y2="109.83" stroke="#000000" stroke-opacity="0.3" stroke-width="0.8"/>
<path d="M424.35 108.83 L425.15 109.83 L424.35 110.83 Z M437.05 108.83 L436.25 109.83 L437.05 110.83 Z" fill="#ffffff"/>
<line x1="424.85" y1="120.67" x2="436.55" y2="120.67" stroke="#006b33" stroke-width="1.0"/>
<line x1="426.35" y1="120.67" x2="435.85" y2="120.67" stroke="#000000" stroke-opacity="0.3" stroke-width="0.8"/>
<path d="M424.35 119.67 L425.15 120.67 L424.35 121.67 Z M437.05 119.67 L436.25 120.67 L437.05 121.67 Z" fill="#ffffff"/>
<rect x="424.90" y="140.35" width="11.60" height="21.10" fill="#08a94f" rx="2.0" stroke="#006b33" stroke-width="0.7"/>
<rect x="433.45" y="140.70" width="2.70" height="20.40" fill="#006b33" rx="1.0" opacity="0.4"/>
<line x1="424.85" y1="150.90" x2="436.55" y2="150.90" stroke="#006b33" stroke-width="1.0"/>
<line x1="426.35" y1="150.90" x2="435.85" y2="150.90" stroke="#000000" stroke-opacity="0.3" stroke-width="0.8"/>
<path d="M424.35 149.90 L425.15 150.90 L424.35 151.90 Z M437.05 149.90 L436.25 150.90 L437.05 151.90 Z" fill="#ffffff"/>
<text transform="translate(446.60 78.10) scale(0.9 1)" font-size="8.0" fill="#1a1a1a" font-weight="bold" text-anchor="middle" stroke="#1a1a1a" stroke-width="0.4">K</text>
<text transform="translate(543.40 78.10) scale(0.9 1)" font-size="8.0" fill="#1a1a1a" font-weight="bold" text-anchor="middle" stroke="#1a1a1a" stroke-width="0.4">K</text>
<text transform="translate(446.60 86.20) scale(0.9 1)" font-size="8.0" fill="#1a1a1a" font-weight="bold" text-anchor="middle" stroke="#1a1a1a" stroke-width="0.4">J</text>
<text transform="translate(543.40 86.20) scale(0.9 1)" font-size="8.0" fill="#1a1a1a" font-weight="bold" text-anchor="middle" stroke="#1a1a1a" stroke-width="0.4">J</text>
<text transform="translate(446.60 94.40) scale(0.9 1)" font-size="8.0" fill="#1a1a1a" font-weight="bold" text-anchor="middle" stroke="#1a1a1a" stroke-width="0.4">H</text>
<text transform="translate(543.40 94.40) scale(0.9 1)" font-size="8.0" fill="#1a1a1a" font-weight="bold" text-anchor="middle" stroke="#1a1a1a" stroke-width="0.4">H</text>
<text transform="translate(446.60 110.30) scale(0.9 1)" font-size="8.0" fill="#1a1a1a" font-weight="bold" text-anchor="middle" stroke="#1a1a1a" stroke-width="0.4">F</text>
<text transform="translate(543.40 110.30) scale(0.9 1)" font-size="8.0" fill="#1a1a1a" font-weight="bold" text-anchor="middle" stroke="#1a1a1a" stroke-width="0.4">F</text>
<text transform="translate(446.60 126.60) scale(0.9 1)" font-size="8.0" fill="#1a1a1a" font-weight="bold" text-anchor="middle" stroke="#1a1a1a" stroke-width="0.4">D</text>
<text transform="translate(543.40 126.60) scale(0.9 1)" font-size="8.0" fill="#1a1a1a" font-weight="bold" text-anchor="middle" stroke="#1a1a1a" stroke-width="0.4">D</text>
<text transform="translate(446.60 142.30) scale(0.9 1)" font-size="8.0" fill="#1a1a1a" font-weight="bold" text-anchor="middle" stroke="#1a1a1a" stroke-width="0.4">C</text>
<text transform="translate(543.40 142.30) scale(0.9 1)" font-size="8.0" fill="#1a1a1a" font-weight="bold" text-anchor="middle" stroke="#1a1a1a" stroke-width="0.4">C</text>
<text transform="translate(446.60 150.30) scale(0.9 1)" font-size="8.0" fill="#1a1a1a" font-weight="bold" text-anchor="middle" stroke="#1a1a1a" stroke-width="0.4">B</text>
<text transform="translate(543.40 150.30) scale(0.9 1)" font-size="8.0" fill="#1a1a1a" font-weight="bold" text-anchor="middle" stroke="#1a1a1a" stroke-width="0.4">B</text>
<text transform="translate(446.60 158.50) scale(0.9 1)" font-size="8.0" fill="#1a1a1a" font-weight="bold" text-anchor="middle" stroke="#1a1a1a" stroke-width="0.4">A</text>
<text transform="translate(543.40 158.50) scale(0.9 1)" font-size="8.0" fill="#1a1a1a" font-weight="bold" text-anchor="middle" stroke="#1a1a1a" stroke-width="0.4">A</text>
<rect x="451.45" y="69.35" width="10.30" height="24.90" fill="#ed0b70" rx="2.0" stroke="#960a48" stroke-width="0.7"/>
<rect x="458.70" y="69.70" width="2.70" height="24.20" fill="#960a48" rx="1.0" opacity="0.4"/>
<line x1="451.40" y1="77.53" x2="461.80" y2="77.53" stroke="#960a48" stroke-width="1.0"/>
<line x1="452.90" y1="77.53" x2="461.10" y2="77.53" stroke="#000000" stroke-opacity="0.3" stroke-width="0.8"/>
<path d="M450.90 76.53 L451.70 77.53 L450.90 78.53 Z M462.30 76.53 L461.50 77.53 L462.30 78.53 Z" fill="#ffffff"/>
<line x1="451.40" y1="86.07" x2="461.80" y2="86.07" stroke="#960a48" stroke-width="1.0"/>
<line x1="452.90" y1="86.07" x2="461.10" y2="86.07" stroke="#000000" stroke-opacity="0.3" stroke-width="0.8"/>
<path d="M450.90 85.07 L451.70 86.07 L450.90 87.07 Z M462.30 85.07 L461.50 86.07 L462.30 87.07 Z" fill="#ffffff"/>
<rect x="451.50" y="104.20" width="10.20" height="22.20" fill="#ffffff" stroke="#a7a9ac" stroke-width="0.8"/>
<rect x="458.90" y="111.50" width="2.40" height="7.60" fill="#d4d5d7"/>
<rect x="451.45" y="102.55" width="10.30" height="8.60" fill="#ed0b70" rx="2.0" stroke="#960a48" stroke-width="0.7"/>
<rect x="458.70" y="102.90" width="2.70" height="7.90" fill="#960a48" rx="1.0" opacity="0.4"/>
<rect x="451.45" y="119.45" width="10.30" height="8.60" fill="#ed0b70" rx="2.0" stroke="#960a48" stroke-width="0.7"/>
<rect x="458.70" y="119.80" width="2.70" height="7.90" fill="#960a48" rx="1.0" opacity="0.4"/>
<rect x="451.45" y="136.35" width="10.30" height="24.90" fill="#ed0b70" rx="2.0" stroke="#960a48" stroke-width="0.7"/>
<rect x="458.70" y="136.70" width="2.70" height="24.20" fill="#960a48" rx="1.0" opacity="0.4"/>
<line x1="451.40" y1="144.53" x2="461.80" y2="144.53" stroke="#960a48" stroke-width="1.0"/>
<line x1="452.90" y1="144.53" x2="461.10" y2="144.53" stroke="#000000" stroke-opacity="0.3" stroke-width="0.8"/>
<path d="M450.90 143.53 L451.70 144.53 L450.90 145.53 Z M462.30 143.53 L461.50 144.53 L462.30 145.53 Z" fill="#ffffff"/>
<line x1="451.40" y1="153.07" x2="461.80" y2="153.07" stroke="#960a48" stroke-width="1.0"/>
<line x1="452.90" y1="153.07" x2="461.10" y2="153.07" stroke="#000000" stroke-opacity="0.3" stroke-width="0.8"/>
<path d="M450.90 152.07 L451.70 153.07 L450.90 154.07 Z M462.30 152.07 L461.50 153.07 L462.30 154.07 Z" fill="#ffffff"/>
<rect x="465.23" y="69.35" width="10.30" height="24.90" fill="#ed0b70" rx="2.0" stroke="#960a48" stroke-width="0.7"/>
<rect x="472.48" y="69.70" width="2.70" height="24.20" fill="#960a48" rx="1.0" opacity="0.4"/>
<line x1="465.18" y1="77.53" x2="475.58" y2="77.53" stroke="#960a48" stroke-width="1.0"/>
<line x1="466.68" y1="77.53" x2="474.88" y2="77.53" stroke="#000000" stroke-opacity="0.3" stroke-width="0.8"/>
<path d="M464.68 76.53 L465.48 77.53 L464.68 78.53 Z M476.08 76.53 L475.28 77.53 L476.08 78.53 Z" fill="#ffffff"/>
<line x1="465.18" y1="86.07" x2="475.58" y2="86.07" stroke="#960a48" stroke-width="1.0"/>
<line x1="466.68" y1="86.07" x2="474.88" y2="86.07" stroke="#000000" stroke-opacity="0.3" stroke-width="0.8"/>
<path d="M464.68 85.07 L465.48 86.07 L464.68 87.07 Z M476.08 85.07 L475.28 86.07 L476.08 87.07 Z" fill="#ffffff"/>
<rect x="465.28" y="104.20" width="10.20" height="22.20" fill="#ffffff" stroke="#a7a9ac" stroke-width="0.8"/>
<rect x="472.68" y="111.50" width="2.40" height="7.60" fill="#d4d5d7"/>
<rect x="465.23" y="102.55" width="10.30" height="8.60" fill="#ed0b70" rx="2.0" stroke="#960a48" stroke-width="0.7"/>
<rect x="472.48" y="102.90" width="2.70" height="7.90" fill="#960a48" rx="1.0" opacity="0.4"/>
<rect x="465.23" y="119.45" width="10.30" height="8.60" fill="#ed0b70" rx="2.0" stroke="#960a48" stroke-width="0.7"/>
<rect x="472.48" y="119.80" width="2.70" height="7.90" fill="#960a48" rx="1.0" opacity="0.4"/>
<rect x="465.23" y="136.35" width="10.30" height="24.90" fill="#ed0b70" rx="2.0" stroke="#960a48" stroke-width="0.7"/>
<rect x="472.48" y="136.70" width="2.70" height="24.20" fill="#960a48" rx="1.0" opacity="0.4"/>
<line x1="465.18" y1="144.53" x2="475.58" y2="144.53" stroke="#960a48" stroke-width="1.0"/>
<line x1="466.68" y1="144.53" x2="474.88" y2="144.53" stroke="#000000" stroke-opacity="0.3" stroke-width="0.8"/>
<path d="M464.68 143.53 L465.48 144.53 L464.68 145.53 Z M476.08 143.53 L475.28 144.53 L476.08 145.53 Z" fill="#ffffff"/>
<line x1="465.18" y1="153.07" x2="475.58" y2="153.07" stroke="#960a48" stroke-width="1.0"/>
<line x1="466.68" y1="153.07" x2="474.88" y2="153.07" stroke="#000000" stroke-opacity="0.3" stroke-width="0.8"/>
<path d="M464.68 152.07 L465.48 153.07 L464.68 154.07 Z M476.08 152.07 L475.28 153.07 L476.08 154.07 Z" fill="#ffffff"/>
<rect x="479.01" y="69.35" width="10.30" height="24.90" fill="#ed0b70" rx="2.0" stroke="#960a48" stroke-width="0.7"/>
<rect x="486.26" y="69.70" width="2.70" height="24.20" fill="#960a48" rx="1.0" opacity="0.4"/>
<line x1="478.96" y1="77.53" x2="489.36" y2="77.53" stroke="#960a48" stroke-width="1.0"/>
<line x1="480.46" y1="77.53" x2="488.66" y2="77.53" stroke="#000000" stroke-opacity="0.3" stroke-width="0.8"/>
<path d="M478.46 76.53 L479.26 77.53 L478.46 78.53 Z M489.86 76.53 L489.06 77.53 L489.86 78.53 Z" fill="#ffffff"/>
<line x1="478.96" y1="86.07" x2="489.36" y2="86.07" stroke="#960a48" stroke-width="1.0"/>
<line x1="480.46" y1="86.07" x2="488.66" y2="86.07" stroke="#000000" stroke-opacity="0.3" stroke-width="0.8"/>
<path d="M478.46 85.07 L479.26 86.07 L478.46 87.07 Z M489.86 85.07 L489.06 86.07 L489.86 87.07 Z" fill="#ffffff"/>
<rect x="479.06" y="104.20" width="10.20" height="22.20" fill="#ffffff" stroke="#a7a9ac" stroke-width="0.8"/>
<rect x="486.46" y="111.50" width="2.40" height="7.60" fill="#d4d5d7"/>
<rect x="479.01" y="102.55" width="10.30" height="8.60" fill="#ed0b70" rx="2.0" stroke="#960a48" stroke-width="0.7"/>
<rect x="486.26" y="102.90" width="2.70" height="7.90" fill="#960a48" rx="1.0" opacity="0.4"/>
<rect x="479.01" y="119.45" width="10.30" height="8.60" fill="#ed0b70" rx="2.0" stroke="#960a48" stroke-width="0.7"/>
<rect x="486.26" y="119.80" width="2.70" height="7.90" fill="#960a48" rx="1.0" opacity="0.4"/>
<rect x="479.01" y="136.35" width="10.30" height="24.90" fill="#ed0b70" rx="2.0" stroke="#960a48" stroke-width="0.7"/>
<rect x="486.26" y="136.70" width="2.70" height="24.20" fill="#960a48" rx="1.0" opacity="0.4"/>
<line x1="478.96" y1="144.53" x2="489.36" y2="144.53" stroke="#960a48" stroke-width="1.0"/>
<line x1="480.46" y1="144.53" x2="488.66" y2="144.53" stroke="#000000" stroke-opacity="0.3" stroke-width="0.8"/>
<path d="M478.46 143.53 L479.26 144.53 L478.46 145.53 Z M489.86 143.53 L489.06 144.53 L489.86 145.53 Z" fill="#ffffff"/>
<line x1="478.96" y1="153.07" x2="489.36" y2="153.07" stroke="#960a48" stroke-width="1.0"/>
<line x1="480.46" y1="153.07" x2="488.66" y2="153.07" stroke="#000000" stroke-opacity="0.3" stroke-width="0.8"/>
<path d="M478.46 152.07 L479.26 153.07 L478.46 154.07 Z M489.86 152.07 L489.06 153.07 L489.86 154.07 Z" fill="#ffffff"/>
<rect x="492.79" y="69.35" width="10.30" height="24.90" fill="#ed0b70" rx="2.0" stroke="#960a48" stroke-width="0.7"/>
<rect x="500.04" y="69.70" width="2.70" height="24.20" fill="#960a48" rx="1.0" opacity="0.4"/>
<line x1="492.74" y1="77.53" x2="503.14" y2="77.53" stroke="#960a48" stroke-width="1.0"/>
<line x1="494.24" y1="77.53" x2="502.44" y2="77.53" stroke="#000000" stroke-opacity="0.3" stroke-width="0.8"/>
<path d="M492.24 76.53 L493.04 77.53 L492.24 78.53 Z M503.64 76.53 L502.84 77.53 L503.64 78.53 Z" fill="#ffffff"/>
<line x1="492.74" y1="86.07" x2="503.14" y2="86.07" stroke="#960a48" stroke-width="1.0"/>
<line x1="494.24" y1="86.07" x2="502.44" y2="86.07" stroke="#000000" stroke-opacity="0.3" stroke-width="0.8"/>
<path d="M492.24 85.07 L493.04 86.07 L492.24 87.07 Z M503.64 85.07 L502.84 86.07 L503.64 87.07 Z" fill="#ffffff"/>
<rect x="492.84" y="104.20" width="10.20" height="22.20" fill="#ffffff" stroke="#a7a9ac" stroke-width="0.8"/>
<rect x="500.24" y="111.50" width="2.40" height="7.60" fill="#d4d5d7"/>
<rect x="492.79" y="102.55" width="10.30" height="8.60" fill="#ed0b70" rx="2.0" stroke="#960a48" stroke-width="0.7"/>
<rect x="500.04" y="102.90" width="2.70" height="7.90" fill="#960a48" rx="1.0" opacity="0.4"/>
<rect x="492.79" y="119.45" width="10.30" height="8.60" fill="#ed0b70" rx="2.0" stroke="#960a48" stroke-width="0.7"/>
<rect x="500.04" y="119.80" width="2.70" height="7.90" fill="#960a48" rx="1.0" opacity="0.4"/>
<rect x="492.79" y="136.35" width="10.30" height="24.90" fill="#ed0b70" rx="2.0" stroke="#960a48" stroke-width="0.7"/>
<rect x="500.04" y="136.70" width="2.70" height="24.20" fill="#960a48" rx="1.0" opacity="0.4"/>
<line x1="492.74" y1="144.53" x2="503.14" y2="144.53" stroke="#960a48" stroke-width="1.0"/>
<line x1="494.24" y1="144.53" x2="502.44" y2="144.53" stroke="#000000" stroke-opacity="0.3" stroke-width="0.8"/>
<path d="M492.24 143.53 L493.04 144.53 L492.24 145.53 Z M503.64 143.53 L502.84 144.53 L503.64 145.53 Z" fill="#ffffff"/>
<line x1="492.74" y1="153.07" x2="503.14" y2="153.07" stroke="#960a48" stroke-width="1.0"/>
<line x1="494.24" y1="153.07" x2="502.44" y2="153.07" stroke="#000000" stroke-opacity="0.3" stroke-width="0.8"/>
<path d="M492.24 152.07 L493.04 153.07 L492.24 154.07 Z M503.64 152.07 L502.84 153.07 L503.64 154.07 Z" fill="#ffffff"/>
<rect x="506.45" y="69.55" width="10.30" height="24.60" fill="#f49ac1" rx="2.0" stroke="#b9628b" stroke-width="0.7"/>
<rect x="513.70" y="69.90" width="2.70" height="23.90" fill="#b9628b" rx="1.0" opacity="0.4"/>
<line x1="506.40" y1="77.63" x2="516.80" y2="77.63" stroke="#b9628b" stroke-width="1.0"/>
<line x1="507.90" y1="77.63" x2="516.10" y2="77.63" stroke="#000000" stroke-opacity="0.3" stroke-width="0.8"/>
<path d="M505.90 76.63 L506.70 77.63 L505.90 78.63 Z M517.30 76.63 L516.50 77.63 L517.30 78.63 Z" fill="#ffffff"/>
<line x1="506.40" y1="86.07" x2="516.80" y2="86.07" stroke="#b9628b" stroke-width="1.0"/>
<line x1="507.90" y1="86.07" x2="516.10" y2="86.07" stroke="#000000" stroke-opacity="0.3" stroke-width="0.8"/>
<path d="M505.90 85.07 L506.70 86.07 L505.90 87.07 Z M517.30 85.07 L516.50 86.07 L517.30 87.07 Z" fill="#ffffff"/>
<rect x="506.45" y="136.35" width="10.30" height="24.80" fill="#f49ac1" rx="2.0" stroke="#b9628b" stroke-width="0.7"/>
<rect x="513.70" y="136.70" width="2.70" height="24.10" fill="#b9628b" rx="1.0" opacity="0.4"/>
<line x1="506.40" y1="144.50" x2="516.80" y2="144.50" stroke="#b9628b" stroke-width="1.0"/>
<line x1="507.90" y1="144.50" x2="516.10" y2="144.50" stroke="#000000" stroke-opacity="0.3" stroke-width="0.8"/>
<path d="M505.90 143.50 L506.70 144.50 L505.90 145.50 Z M517.30 143.50 L516.50 144.50 L517.30 145.50 Z" fill="#ffffff"/>
<line x1="506.40" y1="153.00" x2="516.80" y2="153.00" stroke="#b9628b" stroke-width="1.0"/>
<line x1="507.90" y1="153.00" x2="516.10" y2="153.00" stroke="#000000" stroke-opacity="0.3" stroke-width="0.8"/>
<path d="M505.90 152.00 L506.70 153.00 L505.90 154.00 Z M517.30 152.00 L516.50 153.00 L517.30 154.00 Z" fill="#ffffff"/>
<rect x="507.20" y="102.50" width="23.80" height="11.90" fill="#d2d3d5"/>
<rect x="507.20" y="116.30" width="23.80" height="12.40" fill="#d2d3d5"/>
<path d="M509.8 105.6 H515.4 Q518.3 105.6 518.3 108.5 Q518.3 111.4 515.4 111.4 H509.8 Z" fill="#b3b5b8"/>
<path d="M509.8 119.5 H515.4 Q518.3 119.5 518.3 122.5 Q518.3 125.5 515.4 125.5 H509.8 Z" fill="#b3b5b8"/>
<rect x="549.65" y="69.55" width="10.30" height="24.60" fill="#f49ac1" rx="2.0" stroke="#b9628b" stroke-width="0.7"/>
<rect x="556.90" y="69.90" width="2.70" height="23.90" fill="#b9628b" rx="1.0" opacity="0.4"/>
<line x1="549.60" y1="77.63" x2="560.00" y2="77.63" stroke="#b9628b" stroke-width="1.0"/>
<line x1="551.10" y1="77.63" x2="559.30" y2="77.63" stroke="#000000" stroke-opacity="0.3" stroke-width="0.8"/>
<path d="M549.10 76.63 L549.90 77.63 L549.10 78.63 Z M560.50 76.63 L559.70 77.63 L560.50 78.63 Z" fill="#ffffff"/>
<line x1="549.60" y1="86.07" x2="560.00" y2="86.07" stroke="#b9628b" stroke-width="1.0"/>
<line x1="551.10" y1="86.07" x2="559.30" y2="86.07" stroke="#000000" stroke-opacity="0.3" stroke-width="0.8"/>
<path d="M549.10 85.07 L549.90 86.07 L549.10 87.07 Z M560.50 85.07 L559.70 86.07 L560.50 87.07 Z" fill="#ffffff"/>
<rect x="549.65" y="136.35" width="10.30" height="24.80" fill="#f49ac1" rx="2.0" stroke="#b9628b" stroke-width="0.7"/>
<rect x="556.90" y="136.70" width="2.70" height="24.10" fill="#b9628b" rx="1.0" opacity="0.4"/>
<line x1="549.60" y1="144.50" x2="560.00" y2="144.50" stroke="#b9628b" stroke-width="1.0"/>
<line x1="551.10" y1="144.50" x2="559.30" y2="144.50" stroke="#000000" stroke-opacity="0.3" stroke-width="0.8"/>
<path d="M549.10 143.50 L549.90 144.50 L549.10 145.50 Z M560.50 143.50 L559.70 144.50 L560.50 145.50 Z" fill="#ffffff"/>
<line x1="549.60" y1="153.00" x2="560.00" y2="153.00" stroke="#b9628b" stroke-width="1.0"/>
<line x1="551.10" y1="153.00" x2="559.30" y2="153.00" stroke="#000000" stroke-opacity="0.3" stroke-width="0.8"/>
<path d="M549.10 152.00 L549.90 153.00 L549.10 154.00 Z M560.50 152.00 L559.70 153.00 L560.50 154.00 Z" fill="#ffffff"/>
<rect x="563.40" y="69.55" width="10.30" height="24.60" fill="#b0d235" rx="2.0" stroke="#5e7a1f" stroke-width="0.7"/>
<rect x="570.65" y="69.90" width="2.70" height="23.90" fill="#5e7a1f" rx="1.0" opacity="0.4"/>
<line x1="563.35" y1="77.63" x2="573.75" y2="77.63" stroke="#5e7a1f" stroke-width="1.0"/>
<line x1="564.85" y1="77.63" x2="573.05" y2="77.63" stroke="#000000" stroke-opacity="0.3" stroke-width="0.8"/>
<path d="M562.85 76.63 L563.65 77.63 L562.85 78.63 Z M574.25 76.63 L573.45 77.63 L574.25 78.63 Z" fill="#ffffff"/>
<line x1="563.35" y1="86.07" x2="573.75" y2="86.07" stroke="#5e7a1f" stroke-width="1.0"/>
<line x1="564.85" y1="86.07" x2="573.05" y2="86.07" stroke="#000000" stroke-opacity="0.3" stroke-width="0.8"/>
<path d="M562.85 85.07 L563.65 86.07 L562.85 87.07 Z M574.25 85.07 L573.45 86.07 L574.25 87.07 Z" fill="#ffffff"/>
<rect x="563.40" y="136.35" width="10.30" height="24.80" fill="#b0d235" rx="2.0" stroke="#5e7a1f" stroke-width="0.7"/>
<rect x="570.65" y="136.70" width="2.70" height="24.10" fill="#5e7a1f" rx="1.0" opacity="0.4"/>
<line x1="563.35" y1="144.50" x2="573.75" y2="144.50" stroke="#5e7a1f" stroke-width="1.0"/>
<line x1="564.85" y1="144.50" x2="573.05" y2="144.50" stroke="#000000" stroke-opacity="0.3" stroke-width="0.8"/>
<path d="M562.85 143.50 L563.65 144.50 L562.85 145.50 Z M574.25 143.50 L573.45 144.50 L574.25 145.50 Z" fill="#ffffff"/>
<line x1="563.35" y1="153.00" x2="573.75" y2="153.00" stroke="#5e7a1f" stroke-width="1.0"/>
<line x1="564.85" y1="153.00" x2="573.05" y2="153.00" stroke="#000000" stroke-opacity="0.3" stroke-width="0.8"/>
<path d="M562.85 152.00 L563.65 153.00 L562.85 154.00 Z M574.25 152.00 L573.45 153.00 L574.25 154.00 Z" fill="#ffffff"/>
<rect x="577.15" y="69.55" width="10.30" height="24.60" fill="#b0d235" rx="2.0" stroke="#5e7a1f" stroke-width="0.7"/>
<rect x="584.40" y="69.90" width="2.70" height="23.90" fill="#5e7a1f" rx="1.0" opacity="0.4"/>
<line x1="577.10" y1="77.63" x2="587.50" y2="77.63" stroke="#5e7a1f" stroke-width="1.0"/>
<line x1="578.60" y1="77.63" x2="586.80" y2="77.63" stroke="#000000" stroke-opacity="0.3" stroke-width="0.8"/>
<path d="M576.60 76.63 L577.40 77.63 L576.60 78.63 Z M588.00 76.63 L587.20 77.63 L588.00 78.63 Z" fill="#ffffff"/>
<line x1="577.10" y1="86.07" x2="587.50" y2="86.07" stroke="#5e7a1f" stroke-width="1.0"/>
<line x1="578.60" y1="86.07" x2="586.80" y2="86.07" stroke="#000000" stroke-opacity="0.3" stroke-width="0.8"/>
<path d="M576.60 85.07 L577.40 86.07 L576.60 87.07 Z M588.00 85.07 L587.20 86.07 L588.00 87.07 Z" fill="#ffffff"/>
<rect x="577.15" y="136.35" width="10.30" height="24.80" fill="#b0d235" rx="2.0" stroke="#5e7a1f" stroke-width="0.7"/>
<rect x="584.40" y="136.70" width="2.70" height="24.10" fill="#5e7a1f" rx="1.0" opacity="0.4"/>
<line x1="577.10" y1="144.50" x2="587.50" y2="144.50" stroke="#5e7a1f" stroke-width="1.0"/>
<line x1="578.60" y1="144.50" x2="586.80" y2="144.50" stroke="#000000" stroke-opacity="0.3" stroke-width="0.8"/>
<path d="M576.60 143.50 L577.40 144.50 L576.60 145.50 Z M588.00 143.50 L587.20 144.50 L588.00 145.50 Z" fill="#ffffff"/>
<line x1="577.10" y1="153.00" x2="587.50" y2="153.00" stroke="#5e7a1f" stroke-width="1.0"/>
<line x1="578.60" y1="153.00" x2="586.80" y2="153.00" stroke="#000000" stroke-opacity="0.3" stroke-width="0.8"/>
<path d="M576.60 152.00 L577.40 153.00 L576.60 154.00 Z M588.00 152.00 L587.20 153.00 L588.00 154.00 Z" fill="#ffffff"/>
<rect x="590.90" y="69.55" width="10.30" height="24.60" fill="#b0d235" rx="2.0" stroke="#5e7a1f" stroke-width="0.7"/>
<rect x="598.15" y="69.90" width="2.70" height="23.90" fill="#5e7a1f" rx="1.0" opacity="0.4"/>
<line x1="590.85" y1="77.63" x2="601.25" y2="77.63" stroke="#5e7a1f" stroke-width="1.0"/>
<line x1="592.35" y1="77.63" x2="600.55" y2="77.63" stroke="#000000" stroke-opacity="0.3" stroke-width="0.8"/>
<path d="M590.35 76.63 L591.15 77.63 L590.35 78.63 Z M601.75 76.63 L600.95 77.63 L601.75 78.63 Z" fill="#ffffff"/>
<line x1="590.85" y1="86.07" x2="601.25" y2="86.07" stroke="#5e7a1f" stroke-width="1.0"/>
<line x1="592.35" y1="86.07" x2="600.55" y2="86.07" stroke="#000000" stroke-opacity="0.3" stroke-width="0.8"/>
<path d="M590.35 85.07 L591.15 86.07 L590.35 87.07 Z M601.75 85.07 L600.95 86.07 L601.75 87.07 Z" fill="#ffffff"/>
<rect x="590.90" y="136.35" width="10.30" height="24.80" fill="#b0d235" rx="2.0" stroke="#5e7a1f" stroke-width="0.7"/>
<rect x="598.15" y="136.70" width="2.70" height="24.10" fill="#5e7a1f" rx="1.0" opacity="0.4"/>
<line x1="590.85" y1="144.50" x2="601.25" y2="144.50" stroke="#5e7a1f" stroke-width="1.0"/>
<line x1="592.35" y1="144.50" x2="600.55" y2="144.50" stroke="#000000" stroke-opacity="0.3" stroke-width="0.8"/>
<path d="M590.35 143.50 L591.15 144.50 L590.35 145.50 Z M601.75 143.50 L600.95 144.50 L601.75 145.50 Z" fill="#ffffff"/>
<line x1="590.85" y1="153.00" x2="601.25" y2="153.00" stroke="#5e7a1f" stroke-width="1.0"/>
<line x1="592.35" y1="153.00" x2="600.55" y2="153.00" stroke="#000000" stroke-opacity="0.3" stroke-width="0.8"/>
<path d="M590.35 152.00 L591.15 153.00 L590.35 154.00 Z M601.75 152.00 L600.95 153.00 L601.75 154.00 Z" fill="#ffffff"/>
<rect x="604.65" y="69.55" width="10.30" height="24.60" fill="#b0d235" rx="2.0" stroke="#5e7a1f" stroke-width="0.7"/>
<rect x="611.90" y="69.90" width="2.70" height="23.90" fill="#5e7a1f" rx="1.0" opacity="0.4"/>
<line x1="604.60" y1="77.63" x2="615.00" y2="77.63" stroke="#5e7a1f" stroke-width="1.0"/>
<line x1="606.10" y1="77.63" x2="614.30" y2="77.63" stroke="#000000" stroke-opacity="0.3" stroke-width="0.8"/>
<path d="M604.10 76.63 L604.90 77.63 L604.10 78.63 Z M615.50 76.63 L614.70 77.63 L615.50 78.63 Z" fill="#ffffff"/>
<line x1="604.60" y1="86.07" x2="615.00" y2="86.07" stroke="#5e7a1f" stroke-width="1.0"/>
<line x1="606.10" y1="86.07" x2="614.30" y2="86.07" stroke="#000000" stroke-opacity="0.3" stroke-width="0.8"/>
<path d="M604.10 85.07 L604.90 86.07 L604.10 87.07 Z M615.50 85.07 L614.70 86.07 L615.50 87.07 Z" fill="#ffffff"/>
<rect x="604.65" y="136.35" width="10.30" height="24.80" fill="#b0d235" rx="2.0" stroke="#5e7a1f" stroke-width="0.7"/>
<rect x="611.90" y="136.70" width="2.70" height="24.10" fill="#5e7a1f" rx="1.0" opacity="0.4"/>
<line x1="604.60" y1="144.50" x2="615.00" y2="144.50" stroke="#5e7a1f" stroke-width="1.0"/>
<line x1="606.10" y1="144.50" x2="614.30" y2="144.50" stroke="#000000" stroke-opacity="0.3" stroke-width="0.8"/>
<path d="M604.10 143.50 L604.90 144.50 L604.10 145.50 Z M615.50 143.50 L614.70 144.50 L615.50 145.50 Z" fill="#ffffff"/>
<line x1="604.60" y1="153.00" x2="615.00" y2="153.00" stroke="#5e7a1f" stroke-width="1.0"/>
<line x1="606.10" y1="153.00" x2="614.30" y2="153.00" stroke="#000000" stroke-opacity="0.3" stroke-width="0.8"/>
<path d="M604.10 152.00 L604.90 153.00 L604.10 154.00 Z M615.50 152.00 L614.70 153.00 L615.50 154.00 Z" fill="#ffffff"/>
<rect x="618.40" y="69.55" width="10.30" height="24.60" fill="#b0d235" rx="2.0" stroke="#5e7a1f" stroke-width="0.7"/>
<rect x="625.65" y="69.90" width="2.70" height="23.90" fill="#5e7a1f" rx="1.0" opacity="0.4"/>
<line x1="618.35" y1="77.63" x2="628.75" y2="77.63" stroke="#5e7a1f" stroke-width="1.0"/>
<line x1="619.85" y1="77.63" x2="628.05" y2="77.63" stroke="#000000" stroke-opacity="0.3" stroke-width="0.8"/>
<path d="M617.85 76.63 L618.65 77.63 L617.85 78.63 Z M629.25 76.63 L628.45 77.63 L629.25 78.63 Z" fill="#ffffff"/>
<line x1="618.35" y1="86.07" x2="628.75" y2="86.07" stroke="#5e7a1f" stroke-width="1.0"/>
<line x1="619.85" y1="86.07" x2="628.05" y2="86.07" stroke="#000000" stroke-opacity="0.3" stroke-width="0.8"/>
<path d="M617.85 85.07 L618.65 86.07 L617.85 87.07 Z M629.25 85.07 L628.45 86.07 L629.25 87.07 Z" fill="#ffffff"/>
<rect x="618.40" y="136.35" width="10.30" height="24.80" fill="#b0d235" rx="2.0" stroke="#5e7a1f" stroke-width="0.7"/>
<rect x="625.65" y="136.70" width="2.70" height="24.10" fill="#5e7a1f" rx="1.0" opacity="0.4"/>
<line x1="618.35" y1="144.50" x2="628.75" y2="144.50" stroke="#5e7a1f" stroke-width="1.0"/>
<line x1="619.85" y1="144.50" x2="628.05" y2="144.50" stroke="#000000" stroke-opacity="0.3" stroke-width="0.8"/>
<path d="M617.85 143.50 L618.65 144.50 L617.85 145.50 Z M629.25 143.50 L628.45 144.50 L629.25 145.50 Z" fill="#ffffff"/>
<line x1="618.35" y1="153.00" x2="628.75" y2="153.00" stroke="#5e7a1f" stroke-width="1.0"/>
<line x1="619.85" y1="153.00" x2="628.05" y2="153.00" stroke="#000000" stroke-opacity="0.3" stroke-width="0.8"/>
<path d="M617.85 152.00 L618.65 153.00 L617.85 154.00 Z M629.25 152.00 L628.45 153.00 L629.25 154.00 Z" fill="#ffffff"/>
<rect x="632.15" y="69.55" width="10.30" height="24.60" fill="#b0d235" rx="2.0" stroke="#5e7a1f" stroke-width="0.7"/>
<rect x="639.40" y="69.90" width="2.70" height="23.90" fill="#5e7a1f" rx="1.0" opacity="0.4"/>
<line x1="632.10" y1="77.63" x2="642.50" y2="77.63" stroke="#5e7a1f" stroke-width="1.0"/>
<line x1="633.60" y1="77.63" x2="641.80" y2="77.63" stroke="#000000" stroke-opacity="0.3" stroke-width="0.8"/>
<path d="M631.60 76.63 L632.40 77.63 L631.60 78.63 Z M643.00 76.63 L642.20 77.63 L643.00 78.63 Z" fill="#ffffff"/>
<line x1="632.10" y1="86.07" x2="642.50" y2="86.07" stroke="#5e7a1f" stroke-width="1.0"/>
<line x1="633.60" y1="86.07" x2="641.80" y2="86.07" stroke="#000000" stroke-opacity="0.3" stroke-width="0.8"/>
<path d="M631.60 85.07 L632.40 86.07 L631.60 87.07 Z M643.00 85.07 L642.20 86.07 L643.00 87.07 Z" fill="#ffffff"/>
<rect x="632.15" y="136.35" width="10.30" height="24.80" fill="#b0d235" rx="2.0" stroke="#5e7a1f" stroke-width="0.7"/>
<rect x="639.40" y="136.70" width="2.70" height="24.10" fill="#5e7a1f" rx="1.0" opacity="0.4"/>
<line x1="632.10" y1="144.50" x2="642.50" y2="144.50" stroke="#5e7a1f" stroke-width="1.0"/>
<line x1="633.60" y1="144.50" x2="641.80" y2="144.50" stroke="#000000" stroke-opacity="0.3" stroke-width="0.8"/>
<path d="M631.60 143.50 L632.40 144.50 L631.60 145.50 Z M643.00 143.50 L642.20 144.50 L643.00 145.50 Z" fill="#ffffff"/>
<line x1="632.10" y1="153.00" x2="642.50" y2="153.00" stroke="#5e7a1f" stroke-width="1.0"/>
<line x1="633.60" y1="153.00" x2="641.80" y2="153.00" stroke="#000000" stroke-opacity="0.3" stroke-width="0.8"/>
<path d="M631.60 152.00 L632.40 153.00 L631.60 154.00 Z M643.00 152.00 L642.20 153.00 L643.00 154.00 Z" fill="#ffffff"/>
<rect x="645.90" y="69.55" width="10.30" height="24.60" fill="#b0d235" rx="2.0" stroke="#5e7a1f" stroke-width="0.7"/>
<rect x="653.15" y="69.90" width="2.70" height="23.90" fill="#5e7a1f" rx="1.0" opacity="0.4"/>
<line x1="645.85" y1="77.63" x2="656.25" y2="77.63" stroke="#5e7a1f" stroke-width="1.0"/>
<line x1="647.35" y1="77.63" x2="655.55" y2="77.63" stroke="#000000" stroke-opacity="0.3" stroke-width="0.8"/>
<path d="M645.35 76.63 L646.15 77.63 L645.35 78.63 Z M656.75 76.63 L655.95 77.63 L656.75 78.63 Z" fill="#ffffff"/>
<line x1="645.85" y1="86.07" x2="656.25" y2="86.07" stroke="#5e7a1f" stroke-width="1.0"/>
<line x1="647.35" y1="86.07" x2="655.55" y2="86.07" stroke="#000000" stroke-opacity="0.3" stroke-width="0.8"/>
<path d="M645.35 85.07 L646.15 86.07 L645.35 87.07 Z M656.75 85.07 L655.95 86.07 L656.75 87.07 Z" fill="#ffffff"/>
<rect x="645.90" y="136.35" width="10.30" height="24.80" fill="#b0d235" rx="2.0" stroke="#5e7a1f" stroke-width="0.7"/>
<rect x="653.15" y="136.70" width="2.70" height="24.10" fill="#5e7a1f" rx="1.0" opacity="0.4"/>
<line x1="645.85" y1="144.50" x2="656.25" y2="144.50" stroke="#5e7a1f" stroke-width="1.0"/>
<line x1="647.35" y1="144.50" x2="655.55" y2="144.50" stroke="#000000" stroke-opacity="0.3" stroke-width="0.8"/>
<path d="M645.35 143.50 L646.15 144.50 L645.35 145.50 Z M656.75 143.50 L655.95 144.50 L656.75 145.50 Z" fill="#ffffff"/>
<line x1="645.85" y1="153.00" x2="656.25" y2="153.00" stroke="#5e7a1f" stroke-width="1.0"/>
<line x1="647.35" y1="153.00" x2="655.55" y2="153.00" stroke="#000000" stroke-opacity="0.3" stroke-width="0.8"/>
<path d="M645.35 152.00 L646.15 153.00 L645.35 154.00 Z M656.75 152.00 L655.95 153.00 L656.75 154.00 Z" fill="#ffffff"/>
<rect x="659.65" y="69.55" width="10.30" height="24.60" fill="#b0d235" rx="2.0" stroke="#5e7a1f" stroke-width="0.7"/>
<rect x="666.90" y="69.90" width="2.70" height="23.90" fill="#5e7a1f" rx="1.0" opacity="0.4"/>
<line x1="659.60" y1="77.63" x2="670.00" y2="77.63" stroke="#5e7a1f" stroke-width="1.0"/>
<line x1="661.10" y1="77.63" x2="669.30" y2="77.63" stroke="#000000" stroke-opacity="0.3" stroke-width="0.8"/>
<path d="M659.10 76.63 L659.90 77.63 L659.10 78.63 Z M670.50 76.63 L669.70 77.63 L670.50 78.63 Z" fill="#ffffff"/>
<line x1="659.60" y1="86.07" x2="670.00" y2="86.07" stroke="#5e7a1f" stroke-width="1.0"/>
<line x1="661.10" y1="86.07" x2="669.30" y2="86.07" stroke="#000000" stroke-opacity="0.3" stroke-width="0.8"/>
<path d="M659.10 85.07 L659.90 86.07 L659.10 87.07 Z M670.50 85.07 L669.70 86.07 L670.50 87.07 Z" fill="#ffffff"/>
<rect x="659.65" y="136.35" width="10.30" height="24.80" fill="#b0d235" rx="2.0" stroke="#5e7a1f" stroke-width="0.7"/>
<rect x="666.90" y="136.70" width="2.70" height="24.10" fill="#5e7a1f" rx="1.0" opacity="0.4"/>
<line x1="659.60" y1="144.50" x2="670.00" y2="144.50" stroke="#5e7a1f" stroke-width="1.0"/>
<line x1="661.10" y1="144.50" x2="669.30" y2="144.50" stroke="#000000" stroke-opacity="0.3" stroke-width="0.8"/>
<path d="M659.10 143.50 L659.90 144.50 L659.10 145.50 Z M670.50 143.50 L669.70 144.50 L670.50 145.50 Z" fill="#ffffff"/>
<line x1="659.60" y1="153.00" x2="670.00" y2="153.00" stroke="#5e7a1f" stroke-width="1.0"/>
<line x1="661.10" y1="153.00" x2="669.30" y2="153.00" stroke="#000000" stroke-opacity="0.3" stroke-width="0.8"/>
<path d="M659.10 152.00 L659.90 153.00 L659.10 154.00 Z M670.50 152.00 L669.70 153.00 L670.50 154.00 Z" fill="#ffffff"/>
<rect x="673.40" y="69.55" width="10.30" height="24.60" fill="#b0d235" rx="2.0" stroke="#5e7a1f" stroke-width="0.7"/>
<rect x="680.65" y="69.90" width="2.70" height="23.90" fill="#5e7a1f" rx="1.0" opacity="0.4"/>
<line x1="673.35" y1="77.63" x2="683.75" y2="77.63" stroke="#5e7a1f" stroke-width="1.0"/>
<line x1="674.85" y1="77.63" x2="683.05" y2="77.63" stroke="#000000" stroke-opacity="0.3" stroke-width="0.8"/>
<path d="M672.85 76.63 L673.65 77.63 L672.85 78.63 Z M684.25 76.63 L683.45 77.63 L684.25 78.63 Z" fill="#ffffff"/>
<line x1="673.35" y1="86.07" x2="683.75" y2="86.07" stroke="#5e7a1f" stroke-width="1.0"/>
<line x1="674.85" y1="86.07" x2="683.05" y2="86.07" stroke="#000000" stroke-opacity="0.3" stroke-width="0.8"/>
<path d="M672.85 85.07 L673.65 86.07 L672.85 87.07 Z M684.25 85.07 L683.45 86.07 L684.25 87.07 Z" fill="#ffffff"/>
<rect x="673.40" y="136.35" width="10.30" height="24.80" fill="#b0d235" rx="2.0" stroke="#5e7a1f" stroke-width="0.7"/>
<rect x="680.65" y="136.70" width="2.70" height="24.10" fill="#5e7a1f" rx="1.0" opacity="0.4"/>
<line x1="673.35" y1="144.50" x2="683.75" y2="144.50" stroke="#5e7a1f" stroke-width="1.0"/>
<line x1="674.85" y1="144.50" x2="683.05" y2="144.50" stroke="#000000" stroke-opacity="0.3" stroke-width="0.8"/>
<path d="M672.85 143.50 L673.65 144.50 L672.85 145.50 Z M684.25 143.50 L683.45 144.50 L684.25 145.50 Z" fill="#ffffff"/>
<line x1="673.35" y1="153.00" x2="683.75" y2="153.00" stroke="#5e7a1f" stroke-width="1.0"/>
<line x1="674.85" y1="153.00" x2="683.05" y2="153.00" stroke="#000000" stroke-opacity="0.3" stroke-width="0.8"/>
<path d="M672.85 152.00 L673.65 153.00 L672.85 154.00 Z M684.25 152.00 L683.45 153.00 L684.25 154.00 Z" fill="#ffffff"/>
<rect x="687.15" y="69.55" width="10.30" height="24.60" fill="#b0d235" rx="2.0" stroke="#5e7a1f" stroke-width="0.7"/>
<rect x="694.40" y="69.90" width="2.70" height="23.90" fill="#5e7a1f" rx="1.0" opacity="0.4"/>
<line x1="687.10" y1="77.63" x2="697.50" y2="77.63" stroke="#5e7a1f" stroke-width="1.0"/>
<line x1="688.60" y1="77.63" x2="696.80" y2="77.63" stroke="#000000" stroke-opacity="0.3" stroke-width="0.8"/>
<path d="M686.60 76.63 L687.40 77.63 L686.60 78.63 Z M698.00 76.63 L697.20 77.63 L698.00 78.63 Z" fill="#ffffff"/>
<line x1="687.10" y1="86.07" x2="697.50" y2="86.07" stroke="#5e7a1f" stroke-width="1.0"/>
<line x1="688.60" y1="86.07" x2="696.80" y2="86.07" stroke="#000000" stroke-opacity="0.3" stroke-width="0.8"/>
<path d="M686.60 85.07 L687.40 86.07 L686.60 87.07 Z M698.00 85.07 L697.20 86.07 L698.00 87.07 Z" fill="#ffffff"/>
<rect x="687.15" y="136.35" width="10.30" height="24.80" fill="#b0d235" rx="2.0" stroke="#5e7a1f" stroke-width="0.7"/>
<rect x="694.40" y="136.70" width="2.70" height="24.10" fill="#5e7a1f" rx="1.0" opacity="0.4"/>
<line x1="687.10" y1="144.50" x2="697.50" y2="144.50" stroke="#5e7a1f" stroke-width="1.0"/>
<line x1="688.60" y1="144.50" x2="696.80" y2="144.50" stroke="#000000" stroke-opacity="0.3" stroke-width="0.8"/>
<path d="M686.60 143.50 L687.40 144.50 L686.60 145.50 Z M698.00 143.50 L697.20 144.50 L698.00 145.50 Z" fill="#ffffff"/>
<line x1="687.10" y1="153.00" x2="697.50" y2="153.00" stroke="#5e7a1f" stroke-width="1.0"/>
<line x1="688.60" y1="153.00" x2="696.80" y2="153.00" stroke="#000000" stroke-opacity="0.3" stroke-width="0.8"/>
<path d="M686.60 152.00 L687.40 153.00 L686.60 154.00 Z M698.00 152.00 L697.20 153.00 L698.00 154.00 Z" fill="#ffffff"/>
<rect x="700.90" y="69.55" width="10.30" height="24.60" fill="#f49ac1" rx="2.0" stroke="#b9628b" stroke-width="0.7"/>
<rect x="708.15" y="69.90" width="2.70" height="23.90" fill="#b9628b" rx="1.0" opacity="0.4"/>
<line x1="700.85" y1="77.63" x2="711.25" y2="77.63" stroke="#b9628b" stroke-width="1.0"/>
<line x1="702.35" y1="77.63" x2="710.55" y2="77.63" stroke="#000000" stroke-opacity="0.3" stroke-width="0.8"/>
<path d="M700.35 76.63 L701.15 77.63 L700.35 78.63 Z M711.75 76.63 L710.95 77.63 L711.75 78.63 Z" fill="#ffffff"/>
<line x1="700.85" y1="86.07" x2="711.25" y2="86.07" stroke="#b9628b" stroke-width="1.0"/>
<line x1="702.35" y1="86.07" x2="710.55" y2="86.07" stroke="#000000" stroke-opacity="0.3" stroke-width="0.8"/>
<path d="M700.35 85.07 L701.15 86.07 L700.35 87.07 Z M711.75 85.07 L710.95 86.07 L711.75 87.07 Z" fill="#ffffff"/>
<rect x="700.90" y="136.35" width="10.30" height="24.80" fill="#f49ac1" rx="2.0" stroke="#b9628b" stroke-width="0.7"/>
<rect x="708.15" y="136.70" width="2.70" height="24.10" fill="#b9628b" rx="1.0" opacity="0.4"/>
<line x1="700.85" y1="144.50" x2="711.25" y2="144.50" stroke="#b9628b" stroke-width="1.0"/>
<line x1="702.35" y1="144.50" x2="710.55" y2="144.50" stroke="#000000" stroke-opacity="0.3" stroke-width="0.8"/>
<path d="M700.35 143.50 L701.15 144.50 L700.35 145.50 Z M711.75 143.50 L710.95 144.50 L711.75 145.50 Z" fill="#ffffff"/>
<line x1="700.85" y1="153.00" x2="711.25" y2="153.00" stroke="#b9628b" stroke-width="1.0"/>
<line x1="702.35" y1="153.00" x2="710.55" y2="153.00" stroke="#000000" stroke-opacity="0.3" stroke-width="0.8"/>
<path d="M700.35 152.00 L701.15 153.00 L700.35 154.00 Z M711.75 152.00 L710.95 153.00 L711.75 154.00 Z" fill="#ffffff"/>
<rect x="714.65" y="69.55" width="10.30" height="24.60" fill="#b0d235" rx="2.0" stroke="#5e7a1f" stroke-width="0.7"/>
<rect x="721.90" y="69.90" width="2.70" height="23.90" fill="#5e7a1f" rx="1.0" opacity="0.4"/>
<line x1="714.60" y1="77.63" x2="725.00" y2="77.63" stroke="#5e7a1f" stroke-width="1.0"/>
<line x1="716.10" y1="77.63" x2="724.30" y2="77.63" stroke="#000000" stroke-opacity="0.3" stroke-width="0.8"/>
<path d="M714.10 76.63 L714.90 77.63 L714.10 78.63 Z M725.50 76.63 L724.70 77.63 L725.50 78.63 Z" fill="#ffffff"/>
<line x1="714.60" y1="86.07" x2="725.00" y2="86.07" stroke="#5e7a1f" stroke-width="1.0"/>
<line x1="716.10" y1="86.07" x2="724.30" y2="86.07" stroke="#000000" stroke-opacity="0.3" stroke-width="0.8"/>
<path d="M714.10 85.07 L714.90 86.07 L714.10 87.07 Z M725.50 85.07 L724.70 86.07 L725.50 87.07 Z" fill="#ffffff"/>
<rect x="714.65" y="136.35" width="10.30" height="24.80" fill="#b0d235" rx="2.0" stroke="#5e7a1f" stroke-width="0.7"/>
<rect x="721.90" y="136.70" width="2.70" height="24.10" fill="#5e7a1f" rx="1.0" opacity="0.4"/>
<line x1="714.60" y1="144.50" x2="725.00" y2="144.50" stroke="#5e7a1f" stroke-width="1.0"/>
<line x1="716.10" y1="144.50" x2="724.30" y2="144.50" stroke="#000000" stroke-opacity="0.3" stroke-width="0.8"/>
<path d="M714.10 143.50 L714.90 144.50 L714.10 145.50 Z M725.50 143.50 L724.70 144.50 L725.50 145.50 Z" fill="#ffffff"/>
<line x1="714.60" y1="153.00" x2="725.00" y2="153.00" stroke="#5e7a1f" stroke-width="1.0"/>
<line x1="716.10" y1="153.00" x2="724.30" y2="153.00" stroke="#000000" stroke-opacity="0.3" stroke-width="0.8"/>
<path d="M714.10 152.00 L714.90 153.00 L714.10 154.00 Z M725.50 152.00 L724.70 153.00 L725.50 154.00 Z" fill="#ffffff"/>
<rect x="554.80" y="104.20" width="10.20" height="22.10" fill="#ffffff" stroke="#a7a9ac" stroke-width="0.8"/>
<rect x="562.20" y="111.50" width="2.40" height="7.50" fill="#d4d5d7"/>
<rect x="554.75" y="102.55" width="10.30" height="8.60" fill="#f49ac1" rx="2.0" stroke="#b9628b" stroke-width="0.7"/>
<rect x="562.00" y="102.90" width="2.70" height="7.90" fill="#b9628b" rx="1.0" opacity="0.4"/>
<rect x="554.75" y="119.35" width="10.30" height="8.60" fill="#f49ac1" rx="2.0" stroke="#b9628b" stroke-width="0.7"/>
<rect x="562.00" y="119.70" width="2.70" height="7.90" fill="#b9628b" rx="1.0" opacity="0.4"/>
<rect x="568.55" y="104.20" width="10.20" height="22.10" fill="#ffffff" stroke="#a7a9ac" stroke-width="0.8"/>
<rect x="575.95" y="111.50" width="2.40" height="7.50" fill="#d4d5d7"/>
<rect x="568.50" y="102.55" width="10.30" height="8.60" fill="#b0d235" rx="2.0" stroke="#5e7a1f" stroke-width="0.7"/>
<rect x="575.75" y="102.90" width="2.70" height="7.90" fill="#5e7a1f" rx="1.0" opacity="0.4"/>
<rect x="568.50" y="119.35" width="10.30" height="8.60" fill="#b0d235" rx="2.0" stroke="#5e7a1f" stroke-width="0.7"/>
<rect x="575.75" y="119.70" width="2.70" height="7.90" fill="#5e7a1f" rx="1.0" opacity="0.4"/>
<rect x="582.30" y="104.20" width="10.20" height="22.10" fill="#ffffff" stroke="#a7a9ac" stroke-width="0.8"/>
<rect x="589.70" y="111.50" width="2.40" height="7.50" fill="#d4d5d7"/>
<rect x="582.25" y="102.55" width="10.30" height="8.60" fill="#b0d235" rx="2.0" stroke="#5e7a1f" stroke-width="0.7"/>
<rect x="589.50" y="102.90" width="2.70" height="7.90" fill="#5e7a1f" rx="1.0" opacity="0.4"/>
<rect x="582.25" y="119.35" width="10.30" height="8.60" fill="#b0d235" rx="2.0" stroke="#5e7a1f" stroke-width="0.7"/>
<rect x="589.50" y="119.70" width="2.70" height="7.90" fill="#5e7a1f" rx="1.0" opacity="0.4"/>
<rect x="596.05" y="104.20" width="10.20" height="22.10" fill="#ffffff" stroke="#a7a9ac" stroke-width="0.8"/>
<rect x="603.45" y="111.50" width="2.40" height="7.50" fill="#d4d5d7"/>
<rect x="596.00" y="102.55" width="10.30" height="8.60" fill="#b0d235" rx="2.0" stroke="#5e7a1f" stroke-width="0.7"/>
<rect x="603.25" y="102.90" width="2.70" height="7.90" fill="#5e7a1f" rx="1.0" opacity="0.4"/>
<rect x="596.00" y="119.35" width="10.30" height="8.60" fill="#b0d235" rx="2.0" stroke="#5e7a1f" stroke-width="0.7"/>
<rect x="603.25" y="119.70" width="2.70" height="7.90" fill="#5e7a1f" rx="1.0" opacity="0.4"/>
<rect x="609.80" y="104.20" width="10.20" height="22.10" fill="#ffffff" stroke="#a7a9ac" stroke-width="0.8"/>
<rect x="617.20" y="111.50" width="2.40" height="7.50" fill="#d4d5d7"/>
<rect x="609.75" y="102.55" width="10.30" height="8.60" fill="#b0d235" rx="2.0" stroke="#5e7a1f" stroke-width="0.7"/>
<rect x="617.00" y="102.90" width="2.70" height="7.90" fill="#5e7a1f" rx="1.0" opacity="0.4"/>
<rect x="609.75" y="119.35" width="10.30" height="8.60" fill="#b0d235" rx="2.0" stroke="#5e7a1f" stroke-width="0.7"/>
<rect x="617.00" y="119.70" width="2.70" height="7.90" fill="#5e7a1f" rx="1.0" opacity="0.4"/>
<rect x="623.55" y="104.20" width="10.20" height="22.10" fill="#ffffff" stroke="#a7a9ac" stroke-width="0.8"/>
<rect x="630.95" y="111.50" width="2.40" height="7.50" fill="#d4d5d7"/>
<rect x="623.50" y="102.55" width="10.30" height="8.60" fill="#b0d235" rx="2.0" stroke="#5e7a1f" stroke-width="0.7"/>
<rect x="630.75" y="102.90" width="2.70" height="7.90" fill="#5e7a1f" rx="1.0" opacity="0.4"/>
<rect x="623.50" y="119.35" width="10.30" height="8.60" fill="#b0d235" rx="2.0" stroke="#5e7a1f" stroke-width="0.7"/>
<rect x="630.75" y="119.70" width="2.70" height="7.90" fill="#5e7a1f" rx="1.0" opacity="0.4"/>
<rect x="637.30" y="104.20" width="10.20" height="22.10" fill="#ffffff" stroke="#a7a9ac" stroke-width="0.8"/>
<rect x="644.70" y="111.50" width="2.40" height="7.50" fill="#d4d5d7"/>
<rect x="637.25" y="102.55" width="10.30" height="8.60" fill="#b0d235" rx="2.0" stroke="#5e7a1f" stroke-width="0.7"/>
<rect x="644.50" y="102.90" width="2.70" height="7.90" fill="#5e7a1f" rx="1.0" opacity="0.4"/>
<rect x="637.25" y="119.35" width="10.30" height="8.60" fill="#b0d235" rx="2.0" stroke="#5e7a1f" stroke-width="0.7"/>
<rect x="644.50" y="119.70" width="2.70" height="7.90" fill="#5e7a1f" rx="1.0" opacity="0.4"/>
<rect x="651.05" y="104.20" width="10.20" height="22.10" fill="#ffffff" stroke="#a7a9ac" stroke-width="0.8"/>
<rect x="658.45" y="111.50" width="2.40" height="7.50" fill="#d4d5d7"/>
<rect x="651.00" y="102.55" width="10.30" height="8.60" fill="#b0d235" rx="2.0" stroke="#5e7a1f" stroke-width="0.7"/>
<rect x="658.25" y="102.90" width="2.70" height="7.90" fill="#5e7a1f" rx="1.0" opacity="0.4"/>
<rect x="651.00" y="119.35" width="10.30" height="8.60" fill="#b0d235" rx="2.0" stroke="#5e7a1f" stroke-width="0.7"/>
<rect x="658.25" y="119.70" width="2.70" height="7.90" fill="#5e7a1f" rx="1.0" opacity="0.4"/>
<rect x="664.80" y="104.20" width="10.20" height="22.10" fill="#ffffff" stroke="#a7a9ac" stroke-width="0.8"/>
<rect x="672.20" y="111.50" width="2.40" height="7.50" fill="#d4d5d7"/>
<rect x="664.75" y="102.55" width="10.30" height="8.60" fill="#b0d235" rx="2.0" stroke="#5e7a1f" stroke-width="0.7"/>
<rect x="672.00" y="102.90" width="2.70" height="7.90" fill="#5e7a1f" rx="1.0" opacity="0.4"/>
<rect x="664.75" y="119.35" width="10.30" height="8.60" fill="#b0d235" rx="2.0" stroke="#5e7a1f" stroke-width="0.7"/>
<rect x="672.00" y="119.70" width="2.70" height="7.90" fill="#5e7a1f" rx="1.0" opacity="0.4"/>
<rect x="678.55" y="104.20" width="10.20" height="22.10" fill="#ffffff" stroke="#a7a9ac" stroke-width="0.8"/>
<rect x="685.95" y="111.50" width="2.40" height="7.50" fill="#d4d5d7"/>
<rect x="678.50" y="102.55" width="10.30" height="8.60" fill="#b0d235" rx="2.0" stroke="#5e7a1f" stroke-width="0.7"/>
<rect x="685.75" y="102.90" width="2.70" height="7.90" fill="#5e7a1f" rx="1.0" opacity="0.4"/>
<rect x="678.50" y="119.35" width="10.30" height="8.60" fill="#b0d235" rx="2.0" stroke="#5e7a1f" stroke-width="0.7"/>
<rect x="685.75" y="119.70" width="2.70" height="7.90" fill="#5e7a1f" rx="1.0" opacity="0.4"/>
<rect x="692.30" y="104.20" width="10.20" height="22.10" fill="#ffffff" stroke="#a7a9ac" stroke-width="0.8"/>
<rect x="699.70" y="111.50" width="2.40" height="7.50" fill="#d4d5d7"/>
<rect x="692.25" y="102.55" width="10.30" height="8.60" fill="#b0d235" rx="2.0" stroke="#5e7a1f" stroke-width="0.7"/>
<rect x="699.50" y="102.90" width="2.70" height="7.90" fill="#5e7a1f" rx="1.0" opacity="0.4"/>
<rect x="692.25" y="119.35" width="10.30" height="8.60" fill="#b0d235" rx="2.0" stroke="#5e7a1f" stroke-width="0.7"/>
<rect x="699.50" y="119.70" width="2.70" height="7.90" fill="#5e7a1f" rx="1.0" opacity="0.4"/>
<rect x="706.05" y="104.20" width="10.20" height="22.10" fill="#ffffff" stroke="#a7a9ac" stroke-width="0.8"/>
<rect x="713.45" y="111.50" width="2.40" height="7.50" fill="#d4d5d7"/>
<rect x="706.00" y="102.55" width="10.30" height="8.60" fill="#f49ac1" rx="2.0" stroke="#b9628b" stroke-width="0.7"/>
<rect x="713.25" y="102.90" width="2.70" height="7.90" fill="#b9628b" rx="1.0" opacity="0.4"/>
<rect x="706.00" y="119.35" width="10.30" height="8.60" fill="#f49ac1" rx="2.0" stroke="#b9628b" stroke-width="0.7"/>
<rect x="713.25" y="119.70" width="2.70" height="7.90" fill="#b9628b" rx="1.0" opacity="0.4"/>
<rect x="719.80" y="104.20" width="10.20" height="22.10" fill="#ffffff" stroke="#a7a9ac" stroke-width="0.8"/>
<rect x="727.20" y="111.50" width="2.40" height="7.50" fill="#d4d5d7"/>
<rect x="719.75" y="102.55" width="10.30" height="8.60" fill="#b0d235" rx="2.0" stroke="#5e7a1f" stroke-width="0.7"/>
<rect x="727.00" y="102.90" width="2.70" height="7.90" fill="#5e7a1f" rx="1.0" opacity="0.4"/>
<rect x="719.75" y="119.35" width="10.30" height="8.60" fill="#b0d235" rx="2.0" stroke="#5e7a1f" stroke-width="0.7"/>
<rect x="727.00" y="119.70" width="2.70" height="7.90" fill="#5e7a1f" rx="1.0" opacity="0.4"/>
<line x1="727.60" y1="102.70" x2="727.60" y2="127.80" stroke="#4d5a1e" stroke-width="0.5"/>
<rect x="733.55" y="104.20" width="10.20" height="22.10" fill="#ffffff" stroke="#a7a9ac" stroke-width="0.8"/>
<rect x="740.95" y="111.50" width="2.40" height="7.50" fill="#d4d5d7"/>
<rect x="733.50" y="102.55" width="10.30" height="8.60" fill="#b0d235" rx="2.0" stroke="#5e7a1f" stroke-width="0.7"/>
<rect x="740.75" y="102.90" width="2.70" height="7.90" fill="#5e7a1f" rx="1.0" opacity="0.4"/>
<rect x="733.50" y="119.35" width="10.30" height="8.60" fill="#b0d235" rx="2.0" stroke="#5e7a1f" stroke-width="0.7"/>
<rect x="740.75" y="119.70" width="2.70" height="7.90" fill="#5e7a1f" rx="1.0" opacity="0.4"/>
<line x1="741.35" y1="102.70" x2="741.35" y2="127.80" stroke="#4d5a1e" stroke-width="0.5"/>
<rect x="729.05" y="76.85" width="10.70" height="17.50" fill="#b0d235" rx="2.0" stroke="#5e7a1f" stroke-width="0.7"/>
<rect x="736.70" y="77.20" width="2.70" height="16.80" fill="#5e7a1f" rx="1.0" opacity="0.4"/>
<line x1="729.00" y1="85.60" x2="739.80" y2="85.60" stroke="#5e7a1f" stroke-width="1.0"/>
<line x1="730.50" y1="85.60" x2="739.10" y2="85.60" stroke="#000000" stroke-opacity="0.3" stroke-width="0.8"/>
<path d="M728.50 84.60 L729.30 85.60 L728.50 86.60 Z M740.30 84.60 L739.50 85.60 L740.30 86.60 Z" fill="#ffffff"/>
<rect x="729.05" y="135.95" width="10.70" height="17.70" fill="#b0d235" rx="2.0" stroke="#5e7a1f" stroke-width="0.7"/>
<rect x="736.70" y="136.30" width="2.70" height="17.00" fill="#5e7a1f" rx="1.0" opacity="0.4"/>
<line x1="729.00" y1="144.80" x2="739.80" y2="144.80" stroke="#5e7a1f" stroke-width="1.0"/>
<line x1="730.50" y1="144.80" x2="739.10" y2="144.80" stroke="#000000" stroke-opacity="0.3" stroke-width="0.8"/>
<path d="M728.50 143.80 L729.30 144.80 L728.50 145.80 Z M740.30 143.80 L739.50 144.80 L740.30 145.80 Z" fill="#ffffff"/>
<rect x="743.00" y="75.60" width="16.00" height="17.20" fill="#d2d3d5"/>
<path d="M748 76.9 H754.5 V81 Q754.5 83.8 751.25 83.8 Q748 83.8 748 81 Z" fill="#b3b5b8"/>
<rect x="743.00" y="138.10" width="16.00" height="16.70" fill="#d2d3d5"/>
<path d="M748 153.8 V149.8 Q748 146.9 751.25 146.9 Q754.5 146.9 754.5 149.8 V153.8 Z" fill="#b3b5b8"/>
<path d="M745.5 103.1 H774.5 V127.5 H769.9 V120.4 Q769.9 116.9 764.9 116.9 Q759.9 116.9 759.9 120.4 V127.5 H745.5 Z" fill="#d2d3d5"/>
<path d="M785.5 77.6 L807.75 81.2 V86.9 H821.4 Q826.6 100 826.7 115.5 Q826.6 130 822.4 143.1 H807.75 V150.4 L785.5 153.6 V134.75 H807.75 V95.25 H785.5 Z" fill="#d2d3d5"/>
<text transform="translate(791.80 115.80) scale(0.87 1)" font-size="8.4" fill="#3a3a3c" font-weight="normal" text-anchor="middle" stroke="#3a3a3c" stroke-width="0.15">AFT</text>
</g>
<g id="legend">
<rect x="137.30" y="202.10" width="10.10" height="11.00" fill="#0872bc"/>
<text x="155.80" y="210.60" font-size="8.6" fill="#333333" stroke="#333333" stroke-width="0.22" textLength="87.2" lengthAdjust="spacingAndGlyphs">BUSINESS CLASS DELUXE</text>
<rect x="137.30" y="219.00" width="10.10" height="11.00" fill="#6dcff6"/>
<text x="155.80" y="227.90" font-size="8.6" fill="#333333" stroke="#333333" stroke-width="0.22" textLength="58.2" lengthAdjust="spacingAndGlyphs">BUSINESS CLASS</text>
<rect x="277.90" y="202.10" width="10.10" height="11.00" fill="#08a94f"/>
<text x="297.00" y="210.60" font-size="8.6" fill="#333333" stroke="#333333" stroke-width="0.22" textLength="97.0" lengthAdjust="spacingAndGlyphs">PREMIUM ECONOMY CLASS</text>
<rect x="277.90" y="219.00" width="10.10" height="11.00" fill="#b0d235"/>
<text x="297.00" y="227.90" font-size="8.6" fill="#333333" stroke="#333333" stroke-width="0.22" textLength="98.2" lengthAdjust="spacingAndGlyphs">SUPERIOR ECONOMY CLASS</text>
<rect x="453.80" y="202.10" width="10.10" height="11.00" fill="#ed0b70"/>
<text x="473.00" y="210.60" font-size="8.6" fill="#333333" stroke="#333333" stroke-width="0.22" textLength="101.6" lengthAdjust="spacingAndGlyphs">STANDARD ECONOMY CLASS</text>
<rect x="453.80" y="219.00" width="10.10" height="11.00" fill="#f49ac1"/>
<text x="473.00" y="227.90" font-size="8.6" fill="#333333" stroke="#333333" stroke-width="0.22" textLength="99.0" lengthAdjust="spacingAndGlyphs">EXPLORER ECONOMY CLASS</text>
</g>
<g id="diagrams">
<defs><marker id="ah" viewBox="0 0 10 10" refX="9.2" refY="5" markerWidth="8.8" markerHeight="5.0" orient="auto-start-reverse" markerUnits="userSpaceOnUse"><path d="M0 0 L10 5 L0 10 Z" fill="#8f9194"/></marker></defs>
<rect x="-4.00" y="294.60" width="19.10" height="30.00" fill="#f49ac1" rx="1.5" stroke="#b5708f" stroke-width="0.8"/>
<text transform="translate(5.55 316.60) scale(0.9 1)" font-size="19.0" fill="#000000" font-weight="bold" text-anchor="middle" stroke="#000000" stroke-width="0.4">A</text>
<rect x="18.20" y="294.60" width="19.10" height="30.00" fill="#f49ac1" rx="1.5" stroke="#b5708f" stroke-width="0.8"/>
<text transform="translate(27.75 316.60) scale(0.9 1)" font-size="19.0" fill="#000000" font-weight="bold" text-anchor="middle" stroke="#000000" stroke-width="0.4">B</text>
<rect x="40.40" y="294.60" width="19.10" height="30.00" fill="#f49ac1" rx="1.5" stroke="#b5708f" stroke-width="0.8"/>
<text transform="translate(49.95 316.60) scale(0.9 1)" font-size="19.0" fill="#000000" font-weight="bold" text-anchor="middle" stroke="#000000" stroke-width="0.4">C</text>
<rect x="83.00" y="294.60" width="19.10" height="30.00" fill="#f49ac1" rx="1.5" stroke="#b5708f" stroke-width="0.8"/>
<text transform="translate(92.55 316.60) scale(0.9 1)" font-size="19.0" fill="#000000" font-weight="bold" text-anchor="middle" stroke="#000000" stroke-width="0.4">D</text>
<rect x="105.00" y="294.60" width="19.10" height="30.00" fill="#ffffff" rx="1.5" stroke="#8c8e91" stroke-width="0.8"/>
<rect x="127.70" y="294.60" width="19.10" height="30.00" fill="#f49ac1" rx="1.5" stroke="#b5708f" stroke-width="0.8"/>
<text transform="translate(137.25 316.60) scale(0.9 1)" font-size="19.0" fill="#000000" font-weight="bold" text-anchor="middle" stroke="#000000" stroke-width="0.4">F</text>
<rect x="170.30" y="294.60" width="19.10" height="30.00" fill="#f49ac1" rx="1.5" stroke="#b5708f" stroke-width="0.8"/>
<text transform="translate(179.85 316.60) scale(0.9 1)" font-size="19.0" fill="#000000" font-weight="bold" text-anchor="middle" stroke="#000000" stroke-width="0.4">H</text>
<rect x="192.50" y="294.60" width="19.10" height="30.00" fill="#f49ac1" rx="1.5" stroke="#b5708f" stroke-width="0.8"/>
<text transform="translate(202.05 316.60) scale(0.9 1)" font-size="19.0" fill="#000000" font-weight="bold" text-anchor="middle" stroke="#000000" stroke-width="0.4">J</text>
<rect x="214.90" y="294.60" width="19.10" height="30.00" fill="#f49ac1" rx="1.5" stroke="#b5708f" stroke-width="0.8"/>
<text transform="translate(224.45 316.60) scale(0.9 1)" font-size="19.0" fill="#000000" font-weight="bold" text-anchor="middle" stroke="#000000" stroke-width="0.4">K</text>
<rect x="-2.40" y="382.80" width="24.40" height="29.20" fill="#08a94f" rx="1.5" stroke="#1d7a48" stroke-width="0.8"/>
<text transform="translate(9.80 404.10) scale(0.9 1)" font-size="17.6" fill="#ffffff" font-weight="bold" text-anchor="middle" stroke="#ffffff" stroke-width="0.25">A</text>
<rect x="25.30" y="382.80" width="24.40" height="29.20" fill="#08a94f" rx="1.5" stroke="#1d7a48" stroke-width="0.8"/>
<text transform="translate(37.50 404.10) scale(0.9 1)" font-size="17.6" fill="#ffffff" font-weight="bold" text-anchor="middle" stroke="#ffffff" stroke-width="0.25">B</text>
<rect x="70.50" y="382.80" width="24.40" height="29.20" fill="#08a94f" rx="1.5" stroke="#1d7a48" stroke-width="0.8"/>
<text transform="translate(82.70 404.10) scale(0.9 1)" font-size="17.6" fill="#ffffff" font-weight="bold" text-anchor="middle" stroke="#ffffff" stroke-width="0.25">D</text>
<rect x="98.00" y="382.80" width="24.40" height="29.20" fill="#08a94f" rx="1.5" stroke="#1d7a48" stroke-width="0.8"/>
<text transform="translate(110.20 404.10) scale(0.9 1)" font-size="17.6" fill="#ffffff" font-weight="bold" text-anchor="middle" stroke="#ffffff" stroke-width="0.25">E</text>
<rect x="125.40" y="382.80" width="24.40" height="29.20" fill="#08a94f" rx="1.5" stroke="#1d7a48" stroke-width="0.8"/>
<text transform="translate(137.60 404.10) scale(0.9 1)" font-size="17.6" fill="#ffffff" font-weight="bold" text-anchor="middle" stroke="#ffffff" stroke-width="0.25">F</text>
<rect x="170.80" y="382.80" width="24.40" height="29.20" fill="#08a94f" rx="1.5" stroke="#1d7a48" stroke-width="0.8"/>
<text transform="translate(183.00 404.10) scale(0.9 1)" font-size="17.6" fill="#ffffff" font-weight="bold" text-anchor="middle" stroke="#ffffff" stroke-width="0.25">J</text>
<rect x="198.30" y="382.80" width="24.40" height="29.20" fill="#08a94f" rx="1.5" stroke="#1d7a48" stroke-width="0.8"/>
<text transform="translate(210.50 404.10) scale(0.9 1)" font-size="17.6" fill="#ffffff" font-weight="bold" text-anchor="middle" stroke="#ffffff" stroke-width="0.25">K</text>
<text transform="translate(225.40 397.30) rotate(90)" font-size="8.6" fill="#333333" text-anchor="middle">window</text>
<path d="M36.70 381.30 C45.92 371.83 73.58 371.83 82.80 381.30" fill="none" stroke="#b4b6b9" stroke-width="0.65" marker-start="url(#ah)" marker-end="url(#ah)"/>
<path d="M10.00 414.20 C29.88 433.00 89.52 433.00 109.40 414.20" fill="none" stroke="#b4b6b9" stroke-width="0.65" marker-start="url(#ah)" marker-end="url(#ah)"/>
<path d="M139.20 414.20 C157.19 433.13 193.01 433.13 211.00 414.20" fill="none" stroke="#b4b6b9" stroke-width="0.65" marker-start="url(#ah)" marker-end="url(#ah)"/>
<rect x="289.20" y="290.70" width="19.10" height="30.90" fill="#ed0b70" rx="1.5" stroke="#a30d50" stroke-width="0.8"/>
<text transform="translate(298.75 313.90) scale(0.9 1)" font-size="18.4" fill="#ffffff" font-weight="bold" text-anchor="middle" stroke="#ffffff" stroke-width="0.4">A</text>
<rect x="311.60" y="290.70" width="19.10" height="30.90" fill="#ed0b70" rx="1.5" stroke="#a30d50" stroke-width="0.8"/>
<text transform="translate(321.15 313.90) scale(0.9 1)" font-size="18.4" fill="#ffffff" font-weight="bold" text-anchor="middle" stroke="#ffffff" stroke-width="0.4">B</text>
<rect x="334.20" y="290.70" width="19.10" height="30.90" fill="#ed0b70" rx="1.5" stroke="#a30d50" stroke-width="0.8"/>
<text transform="translate(343.75 313.90) scale(0.9 1)" font-size="18.4" fill="#ffffff" font-weight="bold" text-anchor="middle" stroke="#ffffff" stroke-width="0.4">C</text>
<rect x="376.80" y="290.70" width="19.10" height="30.90" fill="#ed0b70" rx="1.5" stroke="#a30d50" stroke-width="0.8"/>
<text transform="translate(386.35 313.90) scale(0.9 1)" font-size="18.4" fill="#ffffff" font-weight="bold" text-anchor="middle" stroke="#ffffff" stroke-width="0.4">D</text>
<rect x="399.40" y="290.70" width="19.10" height="30.90" fill="#ffffff" rx="1.5" stroke="#8c8e91" stroke-width="0.8"/>
<rect x="422.00" y="290.70" width="19.10" height="30.90" fill="#ed0b70" rx="1.5" stroke="#a30d50" stroke-width="0.8"/>
<text transform="translate(431.55 313.90) scale(0.9 1)" font-size="18.4" fill="#ffffff" font-weight="bold" text-anchor="middle" stroke="#ffffff" stroke-width="0.4">F</text>
<rect x="464.80" y="290.70" width="19.10" height="30.90" fill="#ed0b70" rx="1.5" stroke="#a30d50" stroke-width="0.8"/>
<text transform="translate(474.35 313.90) scale(0.9 1)" font-size="18.4" fill="#ffffff" font-weight="bold" text-anchor="middle" stroke="#ffffff" stroke-width="0.4">H</text>
<rect x="487.40" y="290.70" width="19.10" height="30.90" fill="#ed0b70" rx="1.5" stroke="#a30d50" stroke-width="0.8"/>
<text transform="translate(496.95 313.90) scale(0.9 1)" font-size="18.4" fill="#ffffff" font-weight="bold" text-anchor="middle" stroke="#ffffff" stroke-width="0.4">J</text>
<rect x="509.90" y="290.70" width="19.10" height="30.90" fill="#ed0b70" rx="1.5" stroke="#a30d50" stroke-width="0.8"/>
<text transform="translate(519.45 313.90) scale(0.9 1)" font-size="18.4" fill="#ffffff" font-weight="bold" text-anchor="middle" stroke="#ffffff" stroke-width="0.4">K</text>
<text transform="translate(286.00 305.80) rotate(-90)" font-size="8.6" fill="#333333" text-anchor="middle">window</text>
<text transform="translate(533.40 305.80) rotate(90)" font-size="8.6" fill="#333333" text-anchor="middle">window</text>
<path d="M319.30 288.50 C329.05 278.23 336.35 278.23 346.10 288.50" fill="none" stroke="#b4b6b9" stroke-width="0.65" marker-start="url(#ah)" marker-end="url(#ah)"/>
<path d="M473.20 288.50 C483.21 277.97 489.99 277.97 500.00 288.50" fill="none" stroke="#b4b6b9" stroke-width="0.65" marker-start="url(#ah)" marker-end="url(#ah)"/>
<path d="M299.30 324.20 C317.67 343.53 366.83 343.53 385.20 324.20" fill="none" stroke="#b4b6b9" stroke-width="0.65" marker-start="url(#ah)" marker-end="url(#ah)"/>
<path d="M432.30 324.20 C450.67 343.53 500.03 343.53 518.40 324.20" fill="none" stroke="#b4b6b9" stroke-width="0.65" marker-start="url(#ah)" marker-end="url(#ah)"/>
<rect x="292.70" y="387.40" width="40.30" height="28.50" fill="#6dcff6" rx="1.5" stroke="#35708c" stroke-width="0.8"/>
<text transform="translate(312.85 408.30) scale(0.9 1)" font-size="16.8" fill="#000000" font-weight="bold" text-anchor="middle" stroke="#000000" stroke-width="0.4">A</text>
<rect x="361.70" y="387.40" width="40.30" height="28.50" fill="#6dcff6" rx="1.5" stroke="#35708c" stroke-width="0.8"/>
<text transform="translate(381.85 408.30) scale(0.9 1)" font-size="16.8" fill="#000000" font-weight="bold" text-anchor="middle" stroke="#000000" stroke-width="0.4">E</text>
<rect x="406.70" y="387.40" width="40.30" height="28.50" fill="#6dcff6" rx="1.5" stroke="#35708c" stroke-width="0.8"/>
<text transform="translate(426.85 408.30) scale(0.9 1)" font-size="16.8" fill="#000000" font-weight="bold" text-anchor="middle" stroke="#000000" stroke-width="0.4">F</text>
<rect x="475.80" y="387.40" width="40.30" height="28.50" fill="#6dcff6" rx="1.5" stroke="#35708c" stroke-width="0.8"/>
<text transform="translate(495.95 408.30) scale(0.9 1)" font-size="16.8" fill="#000000" font-weight="bold" text-anchor="middle" stroke="#000000" stroke-width="0.4">K</text>
<text transform="translate(290.00 401.30) rotate(-90)" font-size="8.6" fill="#333333" text-anchor="middle">window</text>
<text transform="translate(518.60 401.30) rotate(90)" font-size="8.6" fill="#333333" text-anchor="middle">window</text>
<path d="M310.20 385.00 C327.55 366.73 366.15 366.73 383.50 385.00" fill="none" stroke="#b4b6b9" stroke-width="0.65" marker-start="url(#ah)" marker-end="url(#ah)"/>
<path d="M426.30 418.60 C443.78 437.00 479.82 437.00 497.30 418.60" fill="none" stroke="#b4b6b9" stroke-width="0.65" marker-start="url(#ah)" marker-end="url(#ah)"/>
<rect x="585.00" y="289.60" width="19.60" height="31.70" fill="#b0d235" rx="1.5" stroke="#5f7a1e" stroke-width="0.8"/>
<text transform="translate(594.80 313.10) scale(0.9 1)" font-size="19.4" fill="#000000" font-weight="bold" text-anchor="middle" stroke="#000000" stroke-width="0.4">A</text>
<rect x="607.80" y="289.60" width="19.60" height="31.70" fill="#b0d235" rx="1.5" stroke="#5f7a1e" stroke-width="0.8"/>
<text transform="translate(617.60 313.10) scale(0.9 1)" font-size="19.4" fill="#000000" font-weight="bold" text-anchor="middle" stroke="#000000" stroke-width="0.4">B</text>
<rect x="630.40" y="289.60" width="19.60" height="31.70" fill="#b0d235" rx="1.5" stroke="#5f7a1e" stroke-width="0.8"/>
<text transform="translate(640.20 313.10) scale(0.9 1)" font-size="19.4" fill="#000000" font-weight="bold" text-anchor="middle" stroke="#000000" stroke-width="0.4">C</text>
<rect x="673.60" y="289.60" width="19.60" height="31.70" fill="#b0d235" rx="1.5" stroke="#5f7a1e" stroke-width="0.8"/>
<text transform="translate(683.40 313.10) scale(0.9 1)" font-size="19.4" fill="#000000" font-weight="bold" text-anchor="middle" stroke="#000000" stroke-width="0.4">D</text>
<rect x="696.20" y="289.60" width="19.60" height="31.70" fill="#ffffff" rx="1.5" stroke="#8c8e91" stroke-width="0.8"/>
<rect x="719.20" y="289.60" width="19.60" height="31.70" fill="#b0d235" rx="1.5" stroke="#5f7a1e" stroke-width="0.8"/>
<text transform="translate(729.00 313.10) scale(0.9 1)" font-size="19.4" fill="#000000" font-weight="bold" text-anchor="middle" stroke="#000000" stroke-width="0.4">F</text>
<rect x="762.20" y="289.60" width="19.60" height="31.70" fill="#b0d235" rx="1.5" stroke="#5f7a1e" stroke-width="0.8"/>
<text transform="translate(772.00 313.10) scale(0.9 1)" font-size="19.4" fill="#000000" font-weight="bold" text-anchor="middle" stroke="#000000" stroke-width="0.4">H</text>
<rect x="785.00" y="289.60" width="19.60" height="31.70" fill="#b0d235" rx="1.5" stroke="#5f7a1e" stroke-width="0.8"/>
<text transform="translate(794.80 313.10) scale(0.9 1)" font-size="19.4" fill="#000000" font-weight="bold" text-anchor="middle" stroke="#000000" stroke-width="0.4">J</text>
<rect x="808.00" y="289.60" width="19.60" height="31.70" fill="#b0d235" rx="1.5" stroke="#5f7a1e" stroke-width="0.8"/>
<text transform="translate(817.80 313.10) scale(0.9 1)" font-size="19.4" fill="#000000" font-weight="bold" text-anchor="middle" stroke="#000000" stroke-width="0.4">K</text>
<text transform="translate(581.50 305.00) rotate(-90)" font-size="8.6" fill="#333333" text-anchor="middle">window</text>
<text transform="translate(831.20 305.00) rotate(90)" font-size="8.6" fill="#333333" text-anchor="middle">window</text>
<path d="M615.10 287.60 C625.74 276.40 632.06 276.40 642.70 287.60" fill="none" stroke="#b4b6b9" stroke-width="0.65" marker-start="url(#ah)" marker-end="url(#ah)"/>
<path d="M770.40 287.60 C781.04 276.40 787.36 276.40 798.00 287.60" fill="none" stroke="#b4b6b9" stroke-width="0.65" marker-start="url(#ah)" marker-end="url(#ah)"/>
<path d="M595.30 323.70 C614.30 343.70 664.00 343.70 683.00 323.70" fill="none" stroke="#b4b6b9" stroke-width="0.65" marker-start="url(#ah)" marker-end="url(#ah)"/>
<path d="M729.00 323.70 C748.00 343.70 799.00 343.70 818.00 323.70" fill="none" stroke="#b4b6b9" stroke-width="0.65" marker-start="url(#ah)" marker-end="url(#ah)"/>
<rect x="591.80" y="388.40" width="42.40" height="30.80" fill="#0872bc" rx="1.5" stroke="#0a3f74" stroke-width="0.8"/>
<text transform="translate(613.00 410.70) scale(0.9 1)" font-size="17.6" fill="#ffffff" font-weight="bold" text-anchor="middle" stroke="#ffffff" stroke-width="0.4">A</text>
<rect x="664.70" y="388.40" width="42.40" height="30.80" fill="#0872bc" rx="1.5" stroke="#0a3f74" stroke-width="0.8"/>
<text transform="translate(685.90 410.70) scale(0.9 1)" font-size="17.6" fill="#ffffff" font-weight="bold" text-anchor="middle" stroke="#ffffff" stroke-width="0.4">E</text>
<rect x="712.70" y="388.40" width="42.40" height="30.80" fill="#0872bc" rx="1.5" stroke="#0a3f74" stroke-width="0.8"/>
<text transform="translate(733.90 410.70) scale(0.9 1)" font-size="17.6" fill="#ffffff" font-weight="bold" text-anchor="middle" stroke="#ffffff" stroke-width="0.4">F</text>
<rect x="785.90" y="388.40" width="42.40" height="30.80" fill="#0872bc" rx="1.5" stroke="#0a3f74" stroke-width="0.8"/>
<text transform="translate(807.10 410.70) scale(0.9 1)" font-size="17.6" fill="#ffffff" font-weight="bold" text-anchor="middle" stroke="#ffffff" stroke-width="0.4">K</text>
<text transform="translate(589.00 403.60) rotate(-90)" font-size="8.6" fill="#333333" text-anchor="middle">window</text>
<text transform="translate(831.20 403.60) rotate(90)" font-size="8.6" fill="#333333" text-anchor="middle">window</text>
<path d="M610.30 386.30 C629.30 366.30 668.50 366.30 687.50 386.30" fill="none" stroke="#b4b6b9" stroke-width="0.65" marker-start="url(#ah)" marker-end="url(#ah)"/>
<path d="M733.00 421.00 C751.49 440.47 789.51 440.47 808.00 421.00" fill="none" stroke="#b4b6b9" stroke-width="0.65" marker-start="url(#ah)" marker-end="url(#ah)"/>
</g>
</svg>
</body></html>
